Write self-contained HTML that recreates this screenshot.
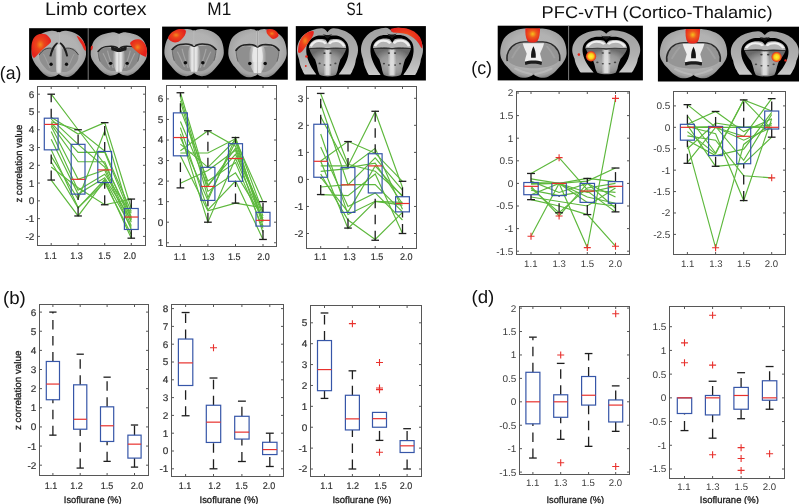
<!DOCTYPE html><html><head><meta charset="utf-8"><style>html,body{margin:0;padding:0;background:#fff;}svg{display:block;will-change:transform;}</style></head><body>
<svg width="800" height="504" viewBox="0 0 800 504" text-rendering="geometricPrecision" font-family='"Liberation Sans", sans-serif'>
<rect width="800" height="504" fill="#fff"/>
<defs>
<filter id="bl" x="-5%" y="-5%" width="110%" height="110%"><feGaussianBlur stdDeviation="0.45"/></filter>
<radialGradient id="gA" cx="50%" cy="45%" r="60%"><stop offset="0" stop-color="#b4b4b4"/><stop offset="0.6" stop-color="#b2b2b2"/><stop offset="0.85" stop-color="#a2a2a2"/><stop offset="1" stop-color="#6e6e6e"/></radialGradient>
<radialGradient id="gS" cx="50%" cy="50%" r="55%"><stop offset="0" stop-color="#a2a2a2"/><stop offset="1" stop-color="#858585"/></radialGradient>
<linearGradient id="gM" x1="0" y1="0" x2="1" y2="0"><stop offset="0" stop-color="#d8d8d8" stop-opacity="0"/><stop offset="0.35" stop-color="#e6e6e6"/><stop offset="0.65" stop-color="#e6e6e6"/><stop offset="1" stop-color="#d8d8d8" stop-opacity="0"/></linearGradient>
<radialGradient id="gC" cx="50%" cy="55%" r="55%"><stop offset="0" stop-color="#b0b0b0"/><stop offset="0.6" stop-color="#969696"/><stop offset="1" stop-color="#6a6a6a"/></radialGradient>
<linearGradient id="gArc" x1="0" y1="0" x2="0" y2="1"><stop offset="0" stop-color="#a0a0a0"/><stop offset="0.6" stop-color="#b0b0b0"/><stop offset="1" stop-color="#cacaca"/></linearGradient>
<radialGradient id="hot" cx="45%" cy="45%" r="50%"><stop offset="0" stop-color="#f28a1e"/><stop offset="0.4" stop-color="#ec441e"/><stop offset="1" stop-color="#e5241c"/></radialGradient>
<radialGradient id="hotY" cx="50%" cy="50%" r="50%"><stop offset="0" stop-color="#fff436"/><stop offset="0.5" stop-color="#fbd01c"/><stop offset="0.8" stop-color="#f2641e"/><stop offset="1" stop-color="#e8241c"/></radialGradient>
<radialGradient id="hotV" cx="50%" cy="40%" r="55%"><stop offset="0" stop-color="#f6c21e"/><stop offset="0.45" stop-color="#ee5a1e"/><stop offset="1" stop-color="#e6261c"/></radialGradient>
<g id="ant">
<path d="M50,5 C46,1.5 41,0 36.5,0.8 C29,2 22,4.5 17,8 C10,13 6,19 4,26 C1.5,34 0.3,43 0.5,51 C0.8,56 1.8,60 3.5,64 C6,70 8.5,74 11.5,78 C14.5,83 18,88 22,92 C26,96 30,98.5 34,99 C38,99.5 42,98 45,96.5 C47.5,95 49,93.5 50,92.5 C51,93.5 52.5,95 55,96.5 C58,98 62,99.5 66,99 C70,98.5 74,96 78,92 C82,88 85.5,83 88.5,78 C91.5,74 94,70 96.5,64 C98.2,60 99.2,56 99.5,51 C99.7,43 98.5,34 96,26 C94,19 90,13 83,8 C78,4.5 71,2 63.5,0.8 C59,0 54,1.5 50,5 Z" fill="url(#gA)"/>
<path d="M14,46 C18,40 23,36 29,35 L44,37 L45,88 C38,90 31,87 27,82 C21,75 16,68 14.5,60 Z" fill="#888"/>
<path d="M86,46 C82,40 77,36 71,35 L56,37 L55,88 C62,90 69,87 73,82 C79,75 84,68 85.5,60 Z" fill="#888"/>
<path d="M22,48 C26,56 28,66 34,80 M30,42 C32,55 36,68 40,82 M78,48 C74,56 72,66 66,80 M70,42 C68,55 64,68 60,82" fill="none" stroke="#b0b0b0" stroke-width="2" opacity="0.7"/>
<path d="M43,37 L57,37 C60,45 62,55 61,65 C60,75 57,83 55,90 L45,90 C43,83 40,75 39,65 C38,55 40,45 43,37 Z" fill="url(#gM)"/>
<path d="M13,45 C17,38 22,34 27,33 C33,32 38,32 41,32.5 C45,33.5 48,36 50,37 C52,36 55,33.5 59,32.5 C62,32 67,32 73,33 C78,34 83,38 87,45" fill="none" stroke="#202020" stroke-width="3.4"/>
<path d="M13.5,45 C14,53 15,60 17,67 M86.5,45 C86,53 85,60 83,67" fill="none" stroke="#555" stroke-width="1.3"/>
<path d="M50,3.5 L50,36" stroke="#dedede" stroke-width="2.4"/><path d="M50,3.5 L50,36" stroke="#555" stroke-width="0.8"/>
<path d="M50,40 L50,92" stroke="#8a8a8a" stroke-width="0.8"/>
<ellipse cx="35.5" cy="71" rx="3" ry="3.6" fill="#111"/><ellipse cx="64.5" cy="71" rx="3" ry="3.6" fill="#111"/>
</g>
<g id="antS">
<path d="M50,5 C46,1.5 41,0 36.5,0.8 C29,2 22,4.5 17,8 C10,13 6,19 4,26 C1.5,34 0.3,43 0.5,51 C0.8,56 1.8,60 3.5,64 C6,70 8.5,74 11.5,78 C14.5,83 18,88 22,92 C26,96 30,98.5 34,99 C38,99.5 42,98 45,96.5 C47.5,95 49,93.5 50,92.5 C51,93.5 52.5,95 55,96.5 C58,98 62,99.5 66,99 C70,98.5 74,96 78,92 C82,88 85.5,83 88.5,78 C91.5,74 94,70 96.5,64 C98.2,60 99.2,56 99.5,51 C99.7,43 98.5,34 96,26 C94,19 90,13 83,8 C78,4.5 71,2 63.5,0.8 C59,0 54,1.5 50,5 Z" fill="url(#gA)"/>
<path d="M14,46 C18,40 23,36 29,35 L44,37 L45,88 C38,90 31,87 27,82 C21,75 16,68 14.5,60 Z" fill="#888"/>
<path d="M86,46 C82,40 77,36 71,35 L56,37 L55,88 C62,90 69,87 73,82 C79,75 84,68 85.5,60 Z" fill="#888"/>
<path d="M22,48 C26,56 28,66 34,80 M30,42 C32,55 36,68 40,82 M78,48 C74,56 72,66 66,80 M70,42 C68,55 64,68 60,82" fill="none" stroke="#b0b0b0" stroke-width="2" opacity="0.7"/>
<path d="M43,37 L57,37 C60,45 62,55 61,65 C60,75 57,83 55,90 L45,90 C43,83 40,75 39,65 C38,55 40,45 43,37 Z" fill="url(#gM)"/>
<path d="M13,45 C17,38 22,34 27,33 C33,32 38,32 41,32.5 C45,33.5 48,36 50,37 C52,36 55,33.5 59,32.5 C62,32 67,32 73,33 C78,34 83,38 87,45" fill="none" stroke="#202020" stroke-width="3.4"/>
<path d="M13.5,45 C14,53 15,60 17,67 M86.5,45 C86,53 85,60 83,67" fill="none" stroke="#555" stroke-width="1.3"/>
<path d="M50,3.5 L50,36" stroke="#dedede" stroke-width="2.4"/><path d="M50,3.5 L50,36" stroke="#555" stroke-width="0.8"/>
<path d="M50,40 L50,92" stroke="#8a8a8a" stroke-width="0.8"/>
<ellipse cx="35.5" cy="71" rx="3" ry="3.6" fill="#111"/><ellipse cx="64.5" cy="71" rx="3" ry="3.6" fill="#111"/>
<path d="M36,33 C42,34.5 47,37 50,37.5 C53,37 58,34.5 64,33 L63,41 C58,42.5 53,45 50,45.5 C47,45 42,42.5 37,41 Z" fill="#1c1c1c"/>
</g>
<g id="antL">
<path d="M50,5 C46,1.5 41,0 36.5,0.8 C29,2 22,4.5 17,8 C10,13 6,19 4,26 C1.5,34 0.3,43 0.5,51 C0.8,56 1.8,60 3.5,64 C6,70 8.5,74 11.5,78 C14.5,83 18,88 22,92 C26,96 30,98.5 34,99 C38,99.5 42,98 45,96.5 C47.5,95 49,93.5 50,92.5 C51,93.5 52.5,95 55,96.5 C58,98 62,99.5 66,99 C70,98.5 74,96 78,92 C82,88 85.5,83 88.5,78 C91.5,74 94,70 96.5,64 C98.2,60 99.2,56 99.5,51 C99.7,43 98.5,34 96,26 C94,19 90,13 83,8 C78,4.5 71,2 63.5,0.8 C59,0 54,1.5 50,5 Z" fill="url(#gA)"/>
<path d="M14,50 C17,42 22,38 28,37 L44,39 L45,88 C38,90 31,87 27,82 C21,75 16,68 14.5,60 Z" fill="#8f8f8f"/>
<path d="M86,50 C83,42 78,38 72,37 L56,39 L55,88 C62,90 69,87 73,82 C79,75 84,68 85.5,60 Z" fill="#8f8f8f"/>
<path d="M22,50 C26,58 28,66 34,80 M78,50 C74,58 72,66 66,80" fill="none" stroke="#a8a8a8" stroke-width="2" opacity="0.7"/>
<path d="M46,30 L54,30 C55.5,45 56.5,60 56,74 C55.5,80 54.5,86 54,90 L46,90 C45.5,86 44.5,80 44,74 C43.5,60 44.5,45 46,30 Z" fill="url(#gM)" opacity="0.8"/>
<path d="M47,25 C42,29 38,35 36,42 C34.5,47 33.5,51 33,55 L36.5,55.5 C37.5,50 39,45 41,40 C43,35 45.5,31 48.5,28 Z" fill="#1c1c1c"/>
<path d="M53,25 C58,29 62,35 64,42 C65.5,47 66.5,51 67,55 L63.5,55.5 C62.5,50 61,45 59,40 C57,35 54.5,31 51.5,28 Z" fill="#1c1c1c"/>
<path d="M37,38 C28,36 20,42 14.5,52 M63,38 C72,36 80,42 85.5,52" fill="none" stroke="#3a3a3a" stroke-width="1.8"/>
<path d="M50,3.5 L50,28" stroke="#dedede" stroke-width="2.4"/><path d="M50,3.5 L50,28" stroke="#555" stroke-width="0.8"/>
<ellipse cx="36" cy="72" rx="3" ry="3.6" fill="#111"/><ellipse cx="64" cy="72" rx="3" ry="3.6" fill="#111"/>
</g>
<g id="antW">
<path d="M50,5 C46,1.5 41,0 36.5,0.8 C29,2 22,4.5 17,8 C10,13 6,19 4,26 C1.5,34 0.3,43 0.5,51 C0.8,56 1.8,60 3.5,64 C6,70 8.5,74 11.5,78 C14.5,83 18,88 22,92 C26,96 30,98.5 34,99 C38,99.5 42,98 45,96.5 C47.5,95 49,93.5 50,92.5 C51,93.5 52.5,95 55,96.5 C58,98 62,99.5 66,99 C70,98.5 74,96 78,92 C82,88 85.5,83 88.5,78 C91.5,74 94,70 96.5,64 C98.2,60 99.2,56 99.5,51 C99.7,43 98.5,34 96,26 C94,19 90,13 83,8 C78,4.5 71,2 63.5,0.8 C59,0 54,1.5 50,5 Z" fill="url(#gA)"/>
<path d="M14,46 C18,40 23,36 29,35 L42,37 L44,88 C38,90 31,87 27,82 C21,75 16,68 14.5,60 Z" fill="#8f8f8f"/>
<path d="M86,46 C82,40 77,36 71,35 L58,37 L56,88 C62,90 69,87 73,82 C79,75 84,68 85.5,60 Z" fill="#8f8f8f"/>
<path d="M39,37 L61,37 C64,45 66,55 65,65 C63,75 59,83 56,90 L44,90 C41,83 37,75 35,65 C34,55 36,45 39,37 Z" fill="url(#gM)"/>
<path d="M44,38 L56,38 C59,48 60,58 58,68 L42,68 C40,58 41,48 44,38 Z" fill="#e8e8e8" opacity="0.9"/>
<path d="M13,45 C17,38 22,34 27,33 C33,32 38,32 41,32.5 C45,33.5 48,36 50,37 C52,36 55,33.5 59,32.5 C62,32 67,32 73,33 C78,34 83,38 87,45" fill="none" stroke="#202020" stroke-width="3.4"/>
<path d="M13.5,45 C14,53 15,60 17,67 M86.5,45 C86,53 85,60 83,67" fill="none" stroke="#555" stroke-width="1.3"/>
<path d="M50,3.5 L50,36" stroke="#dedede" stroke-width="2.4"/><path d="M50,3.5 L50,36" stroke="#555" stroke-width="0.8"/>
<path d="M50,40 L50,92" stroke="#8a8a8a" stroke-width="0.8"/>
<ellipse cx="37" cy="71" rx="3" ry="3.6" fill="#111"/><ellipse cx="63" cy="71" rx="3" ry="3.6" fill="#111"/>
</g>
<g id="antV">
<path d="M50,5 C46,1.5 41,0 36.5,0.8 C29,2 22,4.5 17,8 C10,13 6,19 4,26 C1.5,34 0.3,43 0.5,51 C0.8,56 1.8,60 3.5,64 C6,70 8.5,74 11.5,78 C14.5,83 18,88 22,92 C26,96 30,98.5 34,99 C38,99.5 42,98 45,96.5 C47.5,95 49,93.5 50,92.5 C51,93.5 52.5,95 55,96.5 C58,98 62,99.5 66,99 C70,98.5 74,96 78,92 C82,88 85.5,83 88.5,78 C91.5,74 94,70 96.5,64 C98.2,60 99.2,56 99.5,51 C99.7,43 98.5,34 96,26 C94,19 90,13 83,8 C78,4.5 71,2 63.5,0.8 C59,0 54,1.5 50,5 Z" fill="url(#gA)"/>
<path d="M12,66 C10,52 15,39 25,32 C29,29.5 33,29 36,29 L64,29 C67,29 71,29.5 75,32 C85,39 90,52 88,66 C80,76 65,80 50,80 C35,80 20,76 12,66 Z" fill="#959595"/>
<path d="M11,66 C9,52 14,38 24,31 C29,28 33,27.5 36,27.5 L64,27.5 C67,27.5 71,28 76,31 C86,38 91,52 89,66" fill="none" stroke="#2a2a2a" stroke-width="2.4"/>
<path d="M18,60 C22,50 26,42 30,36 M82,60 C78,50 74,42 70,36" fill="none" stroke="#a8a8a8" stroke-width="3" opacity="0.6"/>
<path d="M34,30 L66,30 C64,40 61,46 60,51 C61,57 63,63 63,70 L37,70 C37,63 39,57 40,51 C39,46 36,40 34,30 Z" fill="#efefef"/>
<path d="M50,36 C47.5,42 46,50 46.5,59 L53.5,59 C54,50 52.5,42 50,36 Z" fill="#161616"/>
<path d="M37,67 C44,64 56,64 63,67 L62,73.5 C56,70.5 44,70.5 38,73.5 Z" fill="#1a1a1a"/>
<path d="M22,80 C30,86 40,90 48,92 M78,80 C70,86 60,90 52,92" fill="none" stroke="#bdbdbd" stroke-width="4" opacity="0.7"/>
</g>
<g id="post">
<path d="M12.6,94.6 C10.5,91 9.5,88.5 8.9,86 C6,79 4,71 3.5,64 C1.5,57 0,51 0,45 C0,42 0.2,39.5 0.5,37 C1.5,32 2.5,28.5 4,25 C6.5,20 9,16 12,13 C16,9 20,6 25,4 C30,2 35,0.5 40,0.3 C44,0.5 47,3.5 50,8.2 C53,3.5 56,0.5 60,0.3 C65,0.5 70,2 75,4 C80,6 84,9 88,13 C91,16 93.5,20 96,25 C97.5,28.5 98.5,32 99.5,37 C99.8,39.5 100,42 100,45 C100,51 98.5,57 96.5,64 C96,71 94,79 91.1,86 C90.5,88.5 89.5,91 87.4,94.6 L68.4,94.6 C70,91 72,88.5 73.1,86 C77,79 80,71 82.1,64 C84,57 85,50 84.8,43 C84.5,35 83,30 80,26 C77,22 75,20 72,18 C68,16 65,15 62,15 L57,15 C54,15.5 52,17.5 50,20 C48,17.5 46,15.5 43,15 L38,15 C35,15 32,16 28,18 C25,20 23,22 20,26 C17,30 15.5,35 15.2,43 C15,50 16,57 17.9,64 C20,71 23,79 26.9,86 C28,88.5 30,91 31.6,94.6 Z" fill="url(#gArc)"/>
<path d="M19.4,41 C19.5,32 25,25 32.4,22.7 C38,21.5 44,22 46.8,23.8 C48.5,26 49.5,28.5 50.4,30.6 C51.3,28.5 52.3,26 54,23.8 C56.8,22 62.8,21.5 68.4,22.7 C75.8,25 80.5,32 80.6,41 Z" fill="#b4b4b4"/>
<path d="M22.4,37 C26,29 31,26 36,26 C41,26 45,28 47.3,31.6 M77.6,37 C74,29 69,26 64,26 C59,26 55,28 52.7,31.6" fill="none" stroke="#f0f0f0" stroke-width="4.2"/>
<path d="M20.2,42 C22,50 26,58 29.7,64 C32,72 33.5,80 34.2,86 C35,90 36,93 36.9,95 C41,97.5 46,98.4 50.4,98.4 C55,98.4 60,97.5 63.9,95 C64.8,93 65.8,90 66.6,86 C67.3,80 68.8,72 71.1,64 C74.8,58 78.8,50 80.6,42 Z" fill="url(#gC)"/>
<path d="M43,44 L57,44 L56,96 L44,96 Z" fill="url(#gM)" opacity="0.85"/>
<path d="M20,42 C35,39.5 45,40 50,42.5 C55,40 65,39.5 81,42" fill="none" stroke="#333" stroke-width="1.6"/>
<circle cx="45" cy="51" r="1.8" fill="#3a3a3a"/><circle cx="55" cy="51" r="1.8" fill="#3a3a3a"/>
<circle cx="37" cy="72" r="1.8" fill="#444"/><circle cx="45" cy="75" r="1.6" fill="#444"/><circle cx="55" cy="75" r="1.6" fill="#444"/><circle cx="63" cy="72" r="1.8" fill="#444"/>
<path d="M42,12 C45,15.5 48,19 50,22 C52,19 55,15.5 58,12 C55,13.5 53,14 50,14 C47,14 45,13.5 42,12 Z" fill="#141414"/>
</g>
</defs>
<rect x="29.1" y="28.2" width="120.9" height="51.7" fill="#000"/>
<rect x="162.1" y="26.6" width="125.7" height="53.1" fill="#000"/>
<rect x="295.8" y="26.1" width="130.1" height="54.4" fill="#000"/>
<rect x="497.7" y="25.7" width="145.2" height="54.7" fill="#000"/>
<rect x="657.9" y="26.7" width="141.1" height="54.8" fill="#000"/>
<line x1="88.2" y1="28.2" x2="88.2" y2="79.9" stroke="#8a8a8a" stroke-width="0.9"/>
<line x1="568.6" y1="25.7" x2="568.6" y2="80.4" stroke="#8a8a8a" stroke-width="0.9"/>
<g filter="url(#bl)">
<use href="#antL" transform="translate(31.3 30.4) scale(0.55 0.47)"/>
<use href="#antS" transform="translate(90.4 32.1) scale(0.57 0.44)"/>
<use href="#ant" transform="translate(164.1 28.6) scale(0.6 0.48)"/>
<use href="#antW" transform="translate(228 28.8) scale(0.59 0.49)"/>
<use href="#post" transform="translate(297 28.2) scale(0.61 0.49)"/>
<use href="#post" transform="translate(361 27.6) scale(0.62 0.5)"/>
<use href="#antV" transform="translate(499.9 28.2) scale(0.67 0.5)"/>
<use href="#post" transform="translate(572.2 30) scale(0.68 0.45)"/>
<use href="#antV" transform="translate(659.5 28.8) scale(0.68 0.5)"/>
<use href="#post" transform="translate(730.8 31.2) scale(0.68 0.46)"/>
<path d="M31.5,50 C31,43 33,37 37,35 C41,33 46,33.5 48,36 C50,38 51.5,40 51,42 C49,45 45,47 42,50 C39,53 36,57 34,58 C32,57 31.8,54 31.5,50 Z" fill="url(#hot)"/>
<path d="M76.5,35.5 C80,37 84,41 85.5,46 C86,48 86,50 85.5,51 C84,50 83,47 82,45 C80,42 78,39 76.5,35.5 Z" fill="#e8281c"/>
<path d="M130,43 C132,40 136,38.5 140,39.5 C144,41 147,46 147,51 C147,54 146.5,56 146,57 C143,56 139,54 136,51 C133,48 130.5,46 130,43 Z" fill="url(#hot)"/>
<path d="M90.8,47 C91.5,45.5 92.5,45 92.8,46.5 C93,48 92.2,50 91,50.5 C90.6,49.5 90.6,48 90.8,47 Z" fill="#e8281c"/>
<path d="M168,38 C169,34 173,31 177,29.5 C181,28.5 185,29 186,31 C186,34 184,37 182,39 C180,41.5 177,42.5 175,42.5 C172,42 169,40.5 168,38 Z" fill="url(#hot)"/>
<path d="M266.5,30 C268,28.8 272,28.8 274.5,30 C277,31.5 279,34 278.5,36 C277,38 275,39 273,39 C271,38.5 268.5,35.5 267,33.5 C266.5,32 266.3,31 266.5,30 Z" fill="url(#hot)"/>
<path d="M298,52 C298,45 300,39 304,35 C307,32 311,30.5 313.5,31 C314.5,33 313,36 311,39 C308,43 305,48 302,51.5 C300.5,53 298.8,53.5 298,52 Z" fill="url(#hot)"/>
<circle cx="306.5" cy="56.5" r="1.3" fill="#e8281c"/><circle cx="305.8" cy="66" r="0.9" fill="#e8281c"/>
<path d="M390.5,29 C394,27.6 400,27.2 406,28.2 C412,29.6 417,32.8 420,37.2 C421.8,40.6 422.6,44.6 422.3,48.5 C421,47.8 419.8,45.6 418.3,43 C416,39.8 412.5,36.6 407.5,34.6 C402.5,32.8 397,32.6 393,32.4 C391.5,31.6 390.7,30.4 390.5,29 Z" fill="url(#hot)"/>
<path d="M525.4,28.3 L540,28.3 C540,33 539.5,38 537.5,41 C535,43 530,43 527.5,41 C525.5,38 525.2,33 525.4,28.3 Z" fill="url(#hotV)"/>
<circle cx="591" cy="56.3" r="5.1" fill="url(#hotY)"/><circle cx="578.9" cy="54.6" r="1.3" fill="#e8281c"/>
<path d="M685.6,29 L700,29 C700,34 699.5,39 697.5,42 C695,44 690,44 687.5,42 C685.5,39 685.4,34 685.6,29 Z" fill="url(#hotV)"/>
<circle cx="776.6" cy="57" r="5.1" fill="url(#hotY)"/><circle cx="785.5" cy="60.4" r="1.2" fill="#e8281c"/>
</g>
<g fill="#333333">
<polyline points="51.2,94.2 78.1,129.75 104.7,164.23 131.3,218.62" fill="none" stroke="#5db83c" stroke-width="1.15"/>
<polyline points="51.2,117.31 78.1,134.02 104.7,122.64 131.3,208.49" fill="none" stroke="#5db83c" stroke-width="1.15"/>
<polyline points="51.2,121.75 78.1,129.75 104.7,151.08 131.3,211.51" fill="none" stroke="#5db83c" stroke-width="1.15"/>
<polyline points="51.2,122.64 78.1,152.32 104.7,152.32 131.3,216.85" fill="none" stroke="#5db83c" stroke-width="1.15"/>
<polyline points="51.2,124.42 78.1,161.75 104.7,161.75 131.3,222.18" fill="none" stroke="#5db83c" stroke-width="1.15"/>
<polyline points="51.2,119.09 78.1,144.33 104.7,167.08 131.3,225.74" fill="none" stroke="#5db83c" stroke-width="1.15"/>
<polyline points="51.2,126.19 78.1,179.34 104.7,169.92 131.3,229.47" fill="none" stroke="#5db83c" stroke-width="1.15"/>
<polyline points="51.2,131.53 78.1,190.19 104.7,174.19 131.3,213.29" fill="none" stroke="#5db83c" stroke-width="1.15"/>
<polyline points="51.2,139.35 78.1,194.1 104.7,177.74 131.3,220.4" fill="none" stroke="#5db83c" stroke-width="1.15"/>
<polyline points="51.2,149.84 78.1,207.6 104.7,182.54 131.3,234.62" fill="none" stroke="#5db83c" stroke-width="1.15"/>
<polyline points="51.2,161.75 78.1,207.96 104.7,179.52 131.3,227.51" fill="none" stroke="#5db83c" stroke-width="1.15"/>
<polyline points="51.2,180.05 78.1,215.96 104.7,180.59 131.3,238.18" fill="none" stroke="#5db83c" stroke-width="1.15"/>
<polyline points="51.2,167.08 78.1,187.7 104.7,204.76 131.3,199.07" fill="none" stroke="#5db83c" stroke-width="1.15"/>
<polyline points="51.2,156.41 78.1,199.07 104.7,130.99 131.3,219.51" fill="none" stroke="#5db83c" stroke-width="1.15"/>
<line x1="51.2" y1="118.2" x2="51.2" y2="94.2" stroke="#1e1e1e" stroke-width="1.3" stroke-dasharray="9.5,6.5"/>
<line x1="47.41" y1="94.2" x2="55" y2="94.2" stroke="#1e1e1e" stroke-width="1.3"/>
<line x1="51.2" y1="180.05" x2="51.2" y2="149.84" stroke="#1e1e1e" stroke-width="1.3" stroke-dasharray="9.5,6.5"/>
<line x1="47.41" y1="180.05" x2="55" y2="180.05" stroke="#1e1e1e" stroke-width="1.3"/>
<rect x="44.3" y="118.2" width="13.8" height="31.64" fill="none" stroke="#3656a8" stroke-width="1.2"/>
<line x1="44.3" y1="124.42" x2="58.1" y2="124.42" stroke="#e8312d" stroke-width="1.2"/>
<line x1="78.1" y1="144.33" x2="78.1" y2="129.75" stroke="#1e1e1e" stroke-width="1.3" stroke-dasharray="9.5,6.5"/>
<line x1="74.3" y1="129.75" x2="81.89" y2="129.75" stroke="#1e1e1e" stroke-width="1.3"/>
<line x1="78.1" y1="215.96" x2="78.1" y2="194.1" stroke="#1e1e1e" stroke-width="1.3" stroke-dasharray="9.5,6.5"/>
<line x1="74.3" y1="215.96" x2="81.89" y2="215.96" stroke="#1e1e1e" stroke-width="1.3"/>
<rect x="71.2" y="144.33" width="13.8" height="49.77" fill="none" stroke="#3656a8" stroke-width="1.2"/>
<line x1="71.2" y1="179.34" x2="85" y2="179.34" stroke="#e8312d" stroke-width="1.2"/>
<line x1="104.7" y1="151.44" x2="104.7" y2="122.64" stroke="#1e1e1e" stroke-width="1.3" stroke-dasharray="9.5,6.5"/>
<line x1="100.91" y1="122.64" x2="108.5" y2="122.64" stroke="#1e1e1e" stroke-width="1.3"/>
<line x1="104.7" y1="204.76" x2="104.7" y2="182.54" stroke="#1e1e1e" stroke-width="1.3" stroke-dasharray="9.5,6.5"/>
<line x1="100.91" y1="204.76" x2="108.5" y2="204.76" stroke="#1e1e1e" stroke-width="1.3"/>
<rect x="97.8" y="151.44" width="13.8" height="31.11" fill="none" stroke="#3656a8" stroke-width="1.2"/>
<line x1="97.8" y1="169.92" x2="111.6" y2="169.92" stroke="#e8312d" stroke-width="1.2"/>
<line x1="131.3" y1="208.49" x2="131.3" y2="199.07" stroke="#1e1e1e" stroke-width="1.3" stroke-dasharray="9.5,6.5"/>
<line x1="127.51" y1="199.07" x2="135.09" y2="199.07" stroke="#1e1e1e" stroke-width="1.3"/>
<line x1="131.3" y1="238.18" x2="131.3" y2="229.47" stroke="#1e1e1e" stroke-width="1.3" stroke-dasharray="9.5,6.5"/>
<line x1="127.51" y1="238.18" x2="135.09" y2="238.18" stroke="#1e1e1e" stroke-width="1.3"/>
<rect x="124.4" y="208.49" width="13.8" height="20.97" fill="none" stroke="#3656a8" stroke-width="1.2"/>
<line x1="124.4" y1="217.03" x2="138.2" y2="217.03" stroke="#e8312d" stroke-width="1.2"/>
<rect x="37.5" y="86.5" width="108" height="159" fill="none" stroke="#575757" stroke-width="1"/>
<text transform="translate(34.4 97.67) scale(1.0 0.97)" text-anchor="end" font-size="10" stroke="#333" stroke-width="0.2">6</text>
<text transform="translate(34.4 115.45) scale(1.0 0.97)" text-anchor="end" font-size="10" stroke="#333" stroke-width="0.2">5</text>
<text transform="translate(34.4 133.22) scale(1.0 0.97)" text-anchor="end" font-size="10" stroke="#333" stroke-width="0.2">4</text>
<text transform="translate(34.4 151) scale(1.0 0.97)" text-anchor="end" font-size="10" stroke="#333" stroke-width="0.2">3</text>
<text transform="translate(34.4 168.77) scale(1.0 0.97)" text-anchor="end" font-size="10" stroke="#333" stroke-width="0.2">2</text>
<text transform="translate(34.4 186.55) scale(1.0 0.97)" text-anchor="end" font-size="10" stroke="#333" stroke-width="0.2">1</text>
<text transform="translate(34.4 204.32) scale(1.0 0.97)" text-anchor="end" font-size="10" stroke="#333" stroke-width="0.2">0</text>
<text transform="translate(34.4 222.1) scale(1.0 0.97)" text-anchor="end" font-size="10" stroke="#333" stroke-width="0.2">-1</text>
<text transform="translate(34.4 239.87) scale(1.0 0.97)" text-anchor="end" font-size="10" stroke="#333" stroke-width="0.2">-2</text>
<text transform="translate(50.6 258.6) scale(0.9 0.96)" text-anchor="middle" font-size="10" stroke="#333" stroke-width="0.2">1.1</text>
<text transform="translate(76.4 258.6) scale(0.9 0.96)" text-anchor="middle" font-size="10" stroke="#333" stroke-width="0.2">1.3</text>
<text transform="translate(104.4 258.6) scale(0.9 0.96)" text-anchor="middle" font-size="10" stroke="#333" stroke-width="0.2">1.5</text>
<text transform="translate(129.75 258.6) scale(0.9 0.96)" text-anchor="middle" font-size="10" stroke="#333" stroke-width="0.2">2.0</text>
<path d="M37.5 94.2h2.5M145.5 94.2h-2.5M37.5 111.97h2.5M145.5 111.97h-2.5M37.5 129.75h2.5M145.5 129.75h-2.5M37.5 147.53h2.5M145.5 147.53h-2.5M37.5 165.3h2.5M145.5 165.3h-2.5M37.5 183.07h2.5M145.5 183.07h-2.5M37.5 200.85h2.5M145.5 200.85h-2.5M37.5 218.62h2.5M145.5 218.62h-2.5M37.5 236.4h2.5M145.5 236.4h-2.5M51.2 245.5v-2.5M51.2 86.5v2.5M78.1 245.5v-2.5M78.1 86.5v2.5M104.7 245.5v-2.5M104.7 86.5v2.5M131.3 245.5v-2.5M131.3 86.5v2.5" stroke="#575757" stroke-width="1"/>
<polyline points="180.4,92.74 207.9,185.21 235.5,154.38 263,211.92" fill="none" stroke="#5db83c" stroke-width="1.15"/>
<polyline points="180.4,96.85 207.9,191.38 235.5,172.88 263,218.09" fill="none" stroke="#5db83c" stroke-width="1.15"/>
<polyline points="180.4,100.95 207.9,197.54 235.5,142.06 263,222.2" fill="none" stroke="#5db83c" stroke-width="1.15"/>
<polyline points="180.4,109.18 207.9,181.1 235.5,162.6 263,228.36" fill="none" stroke="#5db83c" stroke-width="1.15"/>
<polyline points="180.4,121.5 207.9,186.44 235.5,148.22 263,220.14" fill="none" stroke="#5db83c" stroke-width="1.15"/>
<polyline points="180.4,127.67 207.9,209.87 235.5,181.1 263,239.46" fill="none" stroke="#5db83c" stroke-width="1.15"/>
<polyline points="180.4,133.84 207.9,222.2 235.5,158.5 263,220.35" fill="none" stroke="#5db83c" stroke-width="1.15"/>
<polyline points="180.4,137.53 207.9,200.42 235.5,137.53 263,212.34" fill="none" stroke="#5db83c" stroke-width="1.15"/>
<polyline points="180.4,144.11 207.9,167.33 235.5,140 263,201.65" fill="none" stroke="#5db83c" stroke-width="1.15"/>
<polyline points="180.4,150.69 207.9,130.75 235.5,146.16 263,216.03" fill="none" stroke="#5db83c" stroke-width="1.15"/>
<polyline points="180.4,152.95 207.9,152.95 235.5,138.77 263,226.1" fill="none" stroke="#5db83c" stroke-width="1.15"/>
<polyline points="180.4,155.82 207.9,210.9 235.5,203.09 263,207.81" fill="none" stroke="#5db83c" stroke-width="1.15"/>
<polyline points="180.4,183.15 207.9,170.41 235.5,150.28 263,232.47" fill="none" stroke="#5db83c" stroke-width="1.15"/>
<line x1="180.4" y1="112.87" x2="180.4" y2="92.74" stroke="#1e1e1e" stroke-width="1.3" stroke-dasharray="9.5,6.5"/>
<line x1="176.55" y1="92.74" x2="184.25" y2="92.74" stroke="#1e1e1e" stroke-width="1.3"/>
<line x1="180.4" y1="187.88" x2="180.4" y2="155.82" stroke="#1e1e1e" stroke-width="1.3" stroke-dasharray="9.5,6.5"/>
<line x1="176.55" y1="187.88" x2="184.25" y2="187.88" stroke="#1e1e1e" stroke-width="1.3"/>
<rect x="173.4" y="112.87" width="14" height="42.95" fill="none" stroke="#3656a8" stroke-width="1.2"/>
<line x1="173.4" y1="137.53" x2="187.4" y2="137.53" stroke="#e8312d" stroke-width="1.2"/>
<line x1="207.9" y1="167.33" x2="207.9" y2="130.75" stroke="#1e1e1e" stroke-width="1.3" stroke-dasharray="9.5,6.5"/>
<line x1="204.05" y1="130.75" x2="211.75" y2="130.75" stroke="#1e1e1e" stroke-width="1.3"/>
<line x1="207.9" y1="222.2" x2="207.9" y2="200.42" stroke="#1e1e1e" stroke-width="1.3" stroke-dasharray="9.5,6.5"/>
<line x1="204.05" y1="222.2" x2="211.75" y2="222.2" stroke="#1e1e1e" stroke-width="1.3"/>
<rect x="200.9" y="167.33" width="14" height="33.09" fill="none" stroke="#3656a8" stroke-width="1.2"/>
<line x1="200.9" y1="186.44" x2="214.9" y2="186.44" stroke="#e8312d" stroke-width="1.2"/>
<line x1="235.5" y1="143.7" x2="235.5" y2="137.53" stroke="#1e1e1e" stroke-width="1.3" stroke-dasharray="9.5,6.5"/>
<line x1="231.65" y1="137.53" x2="239.35" y2="137.53" stroke="#1e1e1e" stroke-width="1.3"/>
<line x1="235.5" y1="203.09" x2="235.5" y2="181.31" stroke="#1e1e1e" stroke-width="1.3" stroke-dasharray="9.5,6.5"/>
<line x1="231.65" y1="203.09" x2="239.35" y2="203.09" stroke="#1e1e1e" stroke-width="1.3"/>
<rect x="228.5" y="143.7" width="14" height="37.61" fill="none" stroke="#3656a8" stroke-width="1.2"/>
<line x1="228.5" y1="158.5" x2="242.5" y2="158.5" stroke="#e8312d" stroke-width="1.2"/>
<line x1="263" y1="212.34" x2="263" y2="201.65" stroke="#1e1e1e" stroke-width="1.3" stroke-dasharray="9.5,6.5"/>
<line x1="259.15" y1="201.65" x2="266.85" y2="201.65" stroke="#1e1e1e" stroke-width="1.3"/>
<line x1="263" y1="239.46" x2="263" y2="226.1" stroke="#1e1e1e" stroke-width="1.3" stroke-dasharray="9.5,6.5"/>
<line x1="259.15" y1="239.46" x2="266.85" y2="239.46" stroke="#1e1e1e" stroke-width="1.3"/>
<rect x="256" y="212.34" width="14" height="13.77" fill="none" stroke="#3656a8" stroke-width="1.2"/>
<line x1="256" y1="220.35" x2="270" y2="220.35" stroke="#e8312d" stroke-width="1.2"/>
<rect x="166.5" y="85.5" width="110" height="161" fill="none" stroke="#575757" stroke-width="1"/>
<text transform="translate(163.4 102.37) scale(1.0 0.97)" text-anchor="end" font-size="10" stroke="#333" stroke-width="0.2">6</text>
<text transform="translate(163.4 122.92) scale(1.0 0.97)" text-anchor="end" font-size="10" stroke="#333" stroke-width="0.2">5</text>
<text transform="translate(163.4 143.47) scale(1.0 0.97)" text-anchor="end" font-size="10" stroke="#333" stroke-width="0.2">4</text>
<text transform="translate(163.4 164.02) scale(1.0 0.97)" text-anchor="end" font-size="10" stroke="#333" stroke-width="0.2">3</text>
<text transform="translate(163.4 184.57) scale(1.0 0.97)" text-anchor="end" font-size="10" stroke="#333" stroke-width="0.2">2</text>
<text transform="translate(163.4 205.12) scale(1.0 0.97)" text-anchor="end" font-size="10" stroke="#333" stroke-width="0.2">1</text>
<text transform="translate(163.4 225.67) scale(1.0 0.97)" text-anchor="end" font-size="10" stroke="#333" stroke-width="0.2">0</text>
<text transform="translate(163.4 246.22) scale(1.0 0.97)" text-anchor="end" font-size="10" stroke="#333" stroke-width="0.2">1</text>
<text transform="translate(180 260.1) scale(0.9 0.96)" text-anchor="middle" font-size="10" stroke="#333" stroke-width="0.2">1.1</text>
<text transform="translate(208.3 260.1) scale(0.9 0.96)" text-anchor="middle" font-size="10" stroke="#333" stroke-width="0.2">1.3</text>
<text transform="translate(234.3 260.1) scale(0.9 0.96)" text-anchor="middle" font-size="10" stroke="#333" stroke-width="0.2">1.5</text>
<text transform="translate(263.5 260.1) scale(0.9 0.96)" text-anchor="middle" font-size="10" stroke="#333" stroke-width="0.2">2.0</text>
<path d="M166.5 98.9h2.5M276.5 98.9h-2.5M166.5 119.45h2.5M276.5 119.45h-2.5M166.5 140h2.5M276.5 140h-2.5M166.5 160.55h2.5M276.5 160.55h-2.5M166.5 181.1h2.5M276.5 181.1h-2.5M166.5 201.65h2.5M276.5 201.65h-2.5M166.5 222.2h2.5M276.5 222.2h-2.5M166.5 242.75h2.5M276.5 242.75h-2.5M180.4 246.5v-2.5M180.4 85.5v2.5M207.9 246.5v-2.5M207.9 85.5v2.5M235.5 246.5v-2.5M235.5 85.5v2.5M263 246.5v-2.5M263 85.5v2.5" stroke="#575757" stroke-width="1"/>
<polyline points="320.7,93.7 348,164.28 375.2,171.31 402.5,195.64" fill="none" stroke="#5db83c" stroke-width="1.15"/>
<polyline points="320.7,103.98 348,184.83 375.2,157.79 402.5,190.24" fill="none" stroke="#5db83c" stroke-width="1.15"/>
<polyline points="320.7,116.69 348,167.52 375.2,163.2 402.5,203.76" fill="none" stroke="#5db83c" stroke-width="1.15"/>
<polyline points="320.7,133.99 348,214.57 375.2,201.32 402.5,202.4" fill="none" stroke="#5db83c" stroke-width="1.15"/>
<polyline points="320.7,161.03 348,141.29 375.2,153.19 402.5,181.31" fill="none" stroke="#5db83c" stroke-width="1.15"/>
<polyline points="320.7,165.9 348,165.9 375.2,111.82 402.5,187.53" fill="none" stroke="#5db83c" stroke-width="1.15"/>
<polyline points="320.7,171.31 348,168.6 375.2,148.32 402.5,209.16" fill="none" stroke="#5db83c" stroke-width="1.15"/>
<polyline points="320.7,177.26 348,211.87 375.2,165.9 402.5,196.73" fill="none" stroke="#5db83c" stroke-width="1.15"/>
<polyline points="320.7,186.99 348,184.56 375.2,184.56 402.5,211.87" fill="none" stroke="#5db83c" stroke-width="1.15"/>
<polyline points="320.7,161.3 348,228.36 375.2,201.32 402.5,205.11" fill="none" stroke="#5db83c" stroke-width="1.15"/>
<polyline points="320.7,174.01 348,219.98 375.2,239.45 402.5,212.41" fill="none" stroke="#5db83c" stroke-width="1.15"/>
<polyline points="320.7,194.56 348,195.64 375.2,174.01 402.5,233.5" fill="none" stroke="#5db83c" stroke-width="1.15"/>
<polyline points="320.7,146.97 348,206.46 375.2,192.94 402.5,219.98" fill="none" stroke="#5db83c" stroke-width="1.15"/>
<line x1="320.7" y1="124.26" x2="320.7" y2="93.43" stroke="#1e1e1e" stroke-width="1.3" stroke-dasharray="9.5,6.5"/>
<line x1="316.9" y1="93.43" x2="324.5" y2="93.43" stroke="#1e1e1e" stroke-width="1.3"/>
<line x1="320.7" y1="194.56" x2="320.7" y2="177.26" stroke="#1e1e1e" stroke-width="1.3" stroke-dasharray="9.5,6.5"/>
<line x1="316.9" y1="194.56" x2="324.5" y2="194.56" stroke="#1e1e1e" stroke-width="1.3"/>
<rect x="313.8" y="124.26" width="13.8" height="53" fill="none" stroke="#3656a8" stroke-width="1.2"/>
<line x1="313.8" y1="161.3" x2="327.6" y2="161.3" stroke="#e8312d" stroke-width="1.2"/>
<line x1="348" y1="167.52" x2="348" y2="141.56" stroke="#1e1e1e" stroke-width="1.3" stroke-dasharray="9.5,6.5"/>
<line x1="344.2" y1="141.56" x2="351.8" y2="141.56" stroke="#1e1e1e" stroke-width="1.3"/>
<line x1="348" y1="228.09" x2="348" y2="212.41" stroke="#1e1e1e" stroke-width="1.3" stroke-dasharray="9.5,6.5"/>
<line x1="344.2" y1="228.09" x2="351.8" y2="228.09" stroke="#1e1e1e" stroke-width="1.3"/>
<rect x="341.1" y="167.52" width="13.8" height="44.89" fill="none" stroke="#3656a8" stroke-width="1.2"/>
<line x1="341.1" y1="184.83" x2="354.9" y2="184.83" stroke="#e8312d" stroke-width="1.2"/>
<line x1="375.2" y1="153.73" x2="375.2" y2="111.28" stroke="#1e1e1e" stroke-width="1.3" stroke-dasharray="9.5,6.5"/>
<line x1="371.4" y1="111.28" x2="379" y2="111.28" stroke="#1e1e1e" stroke-width="1.3"/>
<line x1="375.2" y1="240.26" x2="375.2" y2="192.94" stroke="#1e1e1e" stroke-width="1.3" stroke-dasharray="9.5,6.5"/>
<line x1="371.4" y1="240.26" x2="379" y2="240.26" stroke="#1e1e1e" stroke-width="1.3"/>
<rect x="368.3" y="153.73" width="13.8" height="39.21" fill="none" stroke="#3656a8" stroke-width="1.2"/>
<line x1="368.3" y1="165.9" x2="382.1" y2="165.9" stroke="#e8312d" stroke-width="1.2"/>
<line x1="402.5" y1="196.73" x2="402.5" y2="181.31" stroke="#1e1e1e" stroke-width="1.3" stroke-dasharray="9.5,6.5"/>
<line x1="398.7" y1="181.31" x2="406.3" y2="181.31" stroke="#1e1e1e" stroke-width="1.3"/>
<line x1="402.5" y1="233.5" x2="402.5" y2="211.87" stroke="#1e1e1e" stroke-width="1.3" stroke-dasharray="9.5,6.5"/>
<line x1="398.7" y1="233.5" x2="406.3" y2="233.5" stroke="#1e1e1e" stroke-width="1.3"/>
<rect x="395.6" y="196.73" width="13.8" height="15.14" fill="none" stroke="#3656a8" stroke-width="1.2"/>
<line x1="395.6" y1="203.49" x2="409.4" y2="203.49" stroke="#e8312d" stroke-width="1.2"/>
<rect x="306.5" y="86.5" width="110" height="162" fill="none" stroke="#575757" stroke-width="1"/>
<text transform="translate(303.4 101.77) scale(1.0 0.97)" text-anchor="end" font-size="10" stroke="#333" stroke-width="0.2">3</text>
<text transform="translate(303.4 128.81) scale(1.0 0.97)" text-anchor="end" font-size="10" stroke="#333" stroke-width="0.2">2</text>
<text transform="translate(303.4 155.85) scale(1.0 0.97)" text-anchor="end" font-size="10" stroke="#333" stroke-width="0.2">1</text>
<text transform="translate(303.4 182.89) scale(1.0 0.97)" text-anchor="end" font-size="10" stroke="#333" stroke-width="0.2">0</text>
<text transform="translate(303.4 209.93) scale(1.0 0.97)" text-anchor="end" font-size="10" stroke="#333" stroke-width="0.2">-1</text>
<text transform="translate(303.4 236.97) scale(1.0 0.97)" text-anchor="end" font-size="10" stroke="#333" stroke-width="0.2">-2</text>
<text transform="translate(320.3 260.3) scale(0.9 0.96)" text-anchor="middle" font-size="10" stroke="#333" stroke-width="0.2">1.1</text>
<text transform="translate(349.5 260.3) scale(0.9 0.96)" text-anchor="middle" font-size="10" stroke="#333" stroke-width="0.2">1.3</text>
<text transform="translate(376.9 260.3) scale(0.9 0.96)" text-anchor="middle" font-size="10" stroke="#333" stroke-width="0.2">1.5</text>
<text transform="translate(406.3 260.3) scale(0.9 0.96)" text-anchor="middle" font-size="10" stroke="#333" stroke-width="0.2">2.0</text>
<path d="M306.5 98.3h2.5M416.5 98.3h-2.5M306.5 125.34h2.5M416.5 125.34h-2.5M306.5 152.38h2.5M416.5 152.38h-2.5M306.5 179.42h2.5M416.5 179.42h-2.5M306.5 206.46h2.5M416.5 206.46h-2.5M306.5 233.5h2.5M416.5 233.5h-2.5M320.7 248.5v-2.5M320.7 86.5v2.5M348 248.5v-2.5M348 86.5v2.5M375.2 248.5v-2.5M375.2 86.5v2.5M402.5 248.5v-2.5M402.5 86.5v2.5" stroke="#575757" stroke-width="1"/>
<polyline points="531,173.46 559.1,157.64 587.3,189.73 615.5,192.44" fill="none" stroke="#5db83c" stroke-width="1.15"/>
<polyline points="531,178.88 559.1,183.4 587.3,178.43 615.5,181.59" fill="none" stroke="#5db83c" stroke-width="1.15"/>
<polyline points="531,182.5 559.1,183.4 587.3,181.14 615.5,168.03" fill="none" stroke="#5db83c" stroke-width="1.15"/>
<polyline points="531,184.3 559.1,183.4 587.3,202.38 615.5,206" fill="none" stroke="#5db83c" stroke-width="1.15"/>
<polyline points="531,186.34 559.1,215.94 587.3,183.4 615.5,196.96" fill="none" stroke="#5db83c" stroke-width="1.15"/>
<polyline points="531,187.92 559.1,212.78 587.3,187.92 615.5,183.4" fill="none" stroke="#5db83c" stroke-width="1.15"/>
<polyline points="531,190.18 559.1,195.6 587.3,191.08 615.5,211.88" fill="none" stroke="#5db83c" stroke-width="1.15"/>
<polyline points="531,194.7 559.1,183.4 587.3,196.96 615.5,203.29" fill="none" stroke="#5db83c" stroke-width="1.15"/>
<polyline points="531,199.67 559.1,206 587.3,214.59 615.5,246.23" fill="none" stroke="#5db83c" stroke-width="1.15"/>
<polyline points="531,236.28 559.1,183.4 587.3,192.44 615.5,186.34" fill="none" stroke="#5db83c" stroke-width="1.15"/>
<polyline points="531,183.4 559.1,183.4 587.3,247.58 615.5,98.42" fill="none" stroke="#5db83c" stroke-width="1.15"/>
<polyline points="531,196.96 559.1,201.48 587.3,206 615.5,187.92" fill="none" stroke="#5db83c" stroke-width="1.15"/>
<polyline points="531,181.14 559.1,192.44 587.3,183.4 615.5,208.26" fill="none" stroke="#5db83c" stroke-width="1.15"/>
<line x1="531" y1="182.5" x2="531" y2="173.46" stroke="#1e1e1e" stroke-width="1.3" stroke-dasharray="9.5,6.5"/>
<line x1="527.04" y1="173.46" x2="534.96" y2="173.46" stroke="#1e1e1e" stroke-width="1.3"/>
<line x1="531" y1="199.67" x2="531" y2="194.7" stroke="#1e1e1e" stroke-width="1.3" stroke-dasharray="9.5,6.5"/>
<line x1="527.04" y1="199.67" x2="534.96" y2="199.67" stroke="#1e1e1e" stroke-width="1.3"/>
<rect x="523.8" y="182.5" width="14.4" height="12.2" fill="none" stroke="#3656a8" stroke-width="1.2"/>
<line x1="523.8" y1="186.34" x2="538.2" y2="186.34" stroke="#e8312d" stroke-width="1.2"/>
<path d="M527.5 236.28h7M531 232.78v7" stroke="#e8312d" stroke-width="1.1" fill="none"/>
<line x1="559.1" y1="212.78" x2="559.1" y2="195.6" stroke="#1e1e1e" stroke-width="1.3" stroke-dasharray="9.5,6.5"/>
<line x1="555.14" y1="212.78" x2="563.06" y2="212.78" stroke="#1e1e1e" stroke-width="1.3"/>
<rect x="551.9" y="183.4" width="14.4" height="12.2" fill="none" stroke="#3656a8" stroke-width="1.2"/>
<line x1="551.9" y1="183.4" x2="566.3" y2="183.4" stroke="#e8312d" stroke-width="1.2"/>
<path d="M555.6 157.64h7M559.1 154.14v7" stroke="#e8312d" stroke-width="1.1" fill="none"/>
<path d="M555.6 215.94h7M559.1 212.44v7" stroke="#e8312d" stroke-width="1.1" fill="none"/>
<line x1="587.3" y1="183.4" x2="587.3" y2="178.43" stroke="#1e1e1e" stroke-width="1.3" stroke-dasharray="9.5,6.5"/>
<line x1="583.34" y1="178.43" x2="591.26" y2="178.43" stroke="#1e1e1e" stroke-width="1.3"/>
<line x1="587.3" y1="214.59" x2="587.3" y2="202.38" stroke="#1e1e1e" stroke-width="1.3" stroke-dasharray="9.5,6.5"/>
<line x1="583.34" y1="214.59" x2="591.26" y2="214.59" stroke="#1e1e1e" stroke-width="1.3"/>
<rect x="580.1" y="183.4" width="14.4" height="18.98" fill="none" stroke="#3656a8" stroke-width="1.2"/>
<line x1="580.1" y1="191.08" x2="594.5" y2="191.08" stroke="#e8312d" stroke-width="1.2"/>
<path d="M583.8 247.58h7M587.3 244.08v7" stroke="#e8312d" stroke-width="1.1" fill="none"/>
<line x1="615.5" y1="181.59" x2="615.5" y2="168.03" stroke="#1e1e1e" stroke-width="1.3" stroke-dasharray="9.5,6.5"/>
<line x1="611.54" y1="168.03" x2="619.46" y2="168.03" stroke="#1e1e1e" stroke-width="1.3"/>
<line x1="615.5" y1="211.88" x2="615.5" y2="203.29" stroke="#1e1e1e" stroke-width="1.3" stroke-dasharray="9.5,6.5"/>
<line x1="611.54" y1="211.88" x2="619.46" y2="211.88" stroke="#1e1e1e" stroke-width="1.3"/>
<rect x="608.3" y="181.59" width="14.4" height="21.7" fill="none" stroke="#3656a8" stroke-width="1.2"/>
<line x1="608.3" y1="186.34" x2="622.7" y2="186.34" stroke="#e8312d" stroke-width="1.2"/>
<path d="M612 98.42h7M615.5 94.92v7" stroke="#e8312d" stroke-width="1.1" fill="none"/>
<path d="M612 246.23h7M615.5 242.73v7" stroke="#e8312d" stroke-width="1.1" fill="none"/>
<rect x="516.5" y="91.5" width="113" height="163" fill="none" stroke="#575757" stroke-width="1"/>
<text transform="translate(513.4 96.47) scale(1.0 0.97)" text-anchor="end" font-size="10" fill="#3c3c3c">2</text>
<text transform="translate(513.4 119.07) scale(1.0 0.97)" text-anchor="end" font-size="10" fill="#3c3c3c">1.5</text>
<text transform="translate(513.4 141.67) scale(1.0 0.97)" text-anchor="end" font-size="10" fill="#3c3c3c">1</text>
<text transform="translate(513.4 164.27) scale(1.0 0.97)" text-anchor="end" font-size="10" fill="#3c3c3c">0.5</text>
<text transform="translate(513.4 186.87) scale(1.0 0.97)" text-anchor="end" font-size="10" fill="#3c3c3c">0</text>
<text transform="translate(513.4 209.47) scale(1.0 0.97)" text-anchor="end" font-size="10" fill="#3c3c3c">-0.5</text>
<text transform="translate(513.4 232.07) scale(1.0 0.97)" text-anchor="end" font-size="10" fill="#3c3c3c">-1</text>
<text transform="translate(513.4 254.67) scale(1.0 0.97)" text-anchor="end" font-size="10" fill="#3c3c3c">-1.5</text>
<text transform="translate(530.8 266.6) scale(0.96 0.96)" text-anchor="middle" font-size="10" fill="#3c3c3c">1.1</text>
<text transform="translate(559.2 266.6) scale(0.96 0.96)" text-anchor="middle" font-size="10" fill="#3c3c3c">1.3</text>
<text transform="translate(587.4 266.6) scale(0.96 0.96)" text-anchor="middle" font-size="10" fill="#3c3c3c">1.5</text>
<text transform="translate(615.3 266.6) scale(0.96 0.96)" text-anchor="middle" font-size="10" fill="#3c3c3c">2.0</text>
<path d="M516.5 93h2.5M629.5 93h-2.5M516.5 115.6h2.5M629.5 115.6h-2.5M516.5 138.2h2.5M629.5 138.2h-2.5M516.5 160.8h2.5M629.5 160.8h-2.5M516.5 183.4h2.5M629.5 183.4h-2.5M516.5 206h2.5M629.5 206h-2.5M516.5 228.6h2.5M629.5 228.6h-2.5M516.5 251.2h2.5M629.5 251.2h-2.5M531 254.5v-2.5M531 91.5v2.5M559.1 254.5v-2.5M559.1 91.5v2.5M587.3 254.5v-2.5M587.3 91.5v2.5M615.5 254.5v-2.5M615.5 91.5v2.5" stroke="#575757" stroke-width="1"/>
<polyline points="687.4,104.62 715.6,127.32 743.7,140.17 771.7,127.32" fill="none" stroke="#5db83c" stroke-width="1.15"/>
<polyline points="687.4,115.75 715.6,153.02 743.7,99.9 771.7,111.04" fill="none" stroke="#5db83c" stroke-width="1.15"/>
<polyline points="687.4,124.32 715.6,111.47 743.7,131.6 771.7,118.75" fill="none" stroke="#5db83c" stroke-width="1.15"/>
<polyline points="687.4,127.32 715.6,127.32 743.7,127.32 771.7,127.32" fill="none" stroke="#5db83c" stroke-width="1.15"/>
<polyline points="687.4,127.32 715.6,126.46 743.7,160.3 771.7,114.47" fill="none" stroke="#5db83c" stroke-width="1.15"/>
<polyline points="687.4,131.6 715.6,153.87 743.7,99.9 771.7,129.03" fill="none" stroke="#5db83c" stroke-width="1.15"/>
<polyline points="687.4,140.17 715.6,155.59 743.7,149.16 771.7,112.33" fill="none" stroke="#5db83c" stroke-width="1.15"/>
<polyline points="687.4,144.45 715.6,247.68 743.7,144.45 771.7,123.03" fill="none" stroke="#5db83c" stroke-width="1.15"/>
<polyline points="687.4,162.44 715.6,127.32 743.7,136.31 771.7,98.62" fill="none" stroke="#5db83c" stroke-width="1.15"/>
<polyline points="687.4,125.18 715.6,166.3 743.7,163.73 771.7,137.17" fill="none" stroke="#5db83c" stroke-width="1.15"/>
<polyline points="687.4,135.88 715.6,140.17 743.7,175.72 771.7,177.86" fill="none" stroke="#5db83c" stroke-width="1.15"/>
<polyline points="687.4,126.46 715.6,133.74 743.7,200.56 771.7,118.75" fill="none" stroke="#5db83c" stroke-width="1.15"/>
<polyline points="687.4,148.73 715.6,123.03 743.7,127.32 771.7,125.18" fill="none" stroke="#5db83c" stroke-width="1.15"/>
<line x1="687.4" y1="124.32" x2="687.4" y2="104.62" stroke="#1e1e1e" stroke-width="1.3" stroke-dasharray="9.5,6.5"/>
<line x1="683.55" y1="104.62" x2="691.25" y2="104.62" stroke="#1e1e1e" stroke-width="1.3"/>
<line x1="687.4" y1="163.3" x2="687.4" y2="140.17" stroke="#1e1e1e" stroke-width="1.3" stroke-dasharray="9.5,6.5"/>
<line x1="683.55" y1="163.3" x2="691.25" y2="163.3" stroke="#1e1e1e" stroke-width="1.3"/>
<rect x="680.4" y="124.32" width="14" height="15.85" fill="none" stroke="#3656a8" stroke-width="1.2"/>
<line x1="680.4" y1="127.32" x2="694.4" y2="127.32" stroke="#e8312d" stroke-width="1.2"/>
<line x1="715.6" y1="126.46" x2="715.6" y2="111.47" stroke="#1e1e1e" stroke-width="1.3" stroke-dasharray="9.5,6.5"/>
<line x1="711.75" y1="111.47" x2="719.45" y2="111.47" stroke="#1e1e1e" stroke-width="1.3"/>
<line x1="715.6" y1="166.3" x2="715.6" y2="155.59" stroke="#1e1e1e" stroke-width="1.3" stroke-dasharray="9.5,6.5"/>
<line x1="711.75" y1="166.3" x2="719.45" y2="166.3" stroke="#1e1e1e" stroke-width="1.3"/>
<rect x="708.6" y="126.46" width="14" height="29.13" fill="none" stroke="#3656a8" stroke-width="1.2"/>
<line x1="708.6" y1="127.32" x2="722.6" y2="127.32" stroke="#e8312d" stroke-width="1.2"/>
<path d="M712.1 247.68h7M715.6 244.18v7" stroke="#e8312d" stroke-width="1.1" fill="none"/>
<line x1="743.7" y1="127.32" x2="743.7" y2="99.9" stroke="#1e1e1e" stroke-width="1.3" stroke-dasharray="9.5,6.5"/>
<line x1="739.85" y1="99.9" x2="747.55" y2="99.9" stroke="#1e1e1e" stroke-width="1.3"/>
<line x1="743.7" y1="200.56" x2="743.7" y2="163.73" stroke="#1e1e1e" stroke-width="1.3" stroke-dasharray="9.5,6.5"/>
<line x1="739.85" y1="200.56" x2="747.55" y2="200.56" stroke="#1e1e1e" stroke-width="1.3"/>
<rect x="736.7" y="127.32" width="14" height="36.41" fill="none" stroke="#3656a8" stroke-width="1.2"/>
<line x1="736.7" y1="136.31" x2="750.7" y2="136.31" stroke="#e8312d" stroke-width="1.2"/>
<line x1="771.7" y1="111.04" x2="771.7" y2="98.62" stroke="#1e1e1e" stroke-width="1.3" stroke-dasharray="9.5,6.5"/>
<line x1="767.85" y1="98.62" x2="775.55" y2="98.62" stroke="#1e1e1e" stroke-width="1.3"/>
<line x1="771.7" y1="137.17" x2="771.7" y2="129.03" stroke="#1e1e1e" stroke-width="1.3" stroke-dasharray="9.5,6.5"/>
<line x1="767.85" y1="137.17" x2="775.55" y2="137.17" stroke="#1e1e1e" stroke-width="1.3"/>
<rect x="764.7" y="111.04" width="14" height="17.99" fill="none" stroke="#3656a8" stroke-width="1.2"/>
<line x1="764.7" y1="127.32" x2="778.7" y2="127.32" stroke="#e8312d" stroke-width="1.2"/>
<path d="M768.2 177.86h7M771.7 174.36v7" stroke="#e8312d" stroke-width="1.1" fill="none"/>
<rect x="673.5" y="91.5" width="112" height="163" fill="none" stroke="#575757" stroke-width="1"/>
<text transform="translate(670.4 109.37) scale(1.0 0.97)" text-anchor="end" font-size="10" fill="#3c3c3c">0.5</text>
<text transform="translate(670.4 130.79) scale(1.0 0.97)" text-anchor="end" font-size="10" fill="#3c3c3c">0</text>
<text transform="translate(670.4 152.21) scale(1.0 0.97)" text-anchor="end" font-size="10" fill="#3c3c3c">-0.5</text>
<text transform="translate(670.4 173.62) scale(1.0 0.97)" text-anchor="end" font-size="10" fill="#3c3c3c">-1</text>
<text transform="translate(670.4 195.04) scale(1.0 0.97)" text-anchor="end" font-size="10" fill="#3c3c3c">-1.5</text>
<text transform="translate(670.4 216.46) scale(1.0 0.97)" text-anchor="end" font-size="10" fill="#3c3c3c">-2</text>
<text transform="translate(670.4 237.87) scale(1.0 0.97)" text-anchor="end" font-size="10" fill="#3c3c3c">-2.5</text>
<text transform="translate(687.7 266.7) scale(0.96 0.96)" text-anchor="middle" font-size="10" fill="#3c3c3c">1.1</text>
<text transform="translate(715.9 266.7) scale(0.96 0.96)" text-anchor="middle" font-size="10" fill="#3c3c3c">1.3</text>
<text transform="translate(743.8 266.7) scale(0.96 0.96)" text-anchor="middle" font-size="10" fill="#3c3c3c">1.5</text>
<text transform="translate(771.4 266.7) scale(0.96 0.96)" text-anchor="middle" font-size="10" fill="#3c3c3c">2.0</text>
<path d="M673.5 105.9h2.5M785.5 105.9h-2.5M673.5 127.32h2.5M785.5 127.32h-2.5M673.5 148.73h2.5M785.5 148.73h-2.5M673.5 170.15h2.5M785.5 170.15h-2.5M673.5 191.57h2.5M785.5 191.57h-2.5M673.5 212.98h2.5M785.5 212.98h-2.5M673.5 234.4h2.5M785.5 234.4h-2.5M687.4 254.5v-2.5M687.4 91.5v2.5M715.6 254.5v-2.5M715.6 91.5v2.5M743.7 254.5v-2.5M743.7 91.5v2.5M771.7 254.5v-2.5M771.7 91.5v2.5" stroke="#575757" stroke-width="1"/>
<line x1="52.9" y1="361.47" x2="52.9" y2="312.1" stroke="#1e1e1e" stroke-width="1.3" stroke-dasharray="9.5,6.5"/>
<line x1="49.27" y1="312.1" x2="56.53" y2="312.1" stroke="#1e1e1e" stroke-width="1.3"/>
<line x1="52.9" y1="435.15" x2="52.9" y2="399.75" stroke="#1e1e1e" stroke-width="1.3" stroke-dasharray="9.5,6.5"/>
<line x1="49.27" y1="435.15" x2="56.53" y2="435.15" stroke="#1e1e1e" stroke-width="1.3"/>
<rect x="46.3" y="361.47" width="13.2" height="38.27" fill="none" stroke="#3656a8" stroke-width="1.2"/>
<line x1="46.3" y1="384.06" x2="59.5" y2="384.06" stroke="#e8312d" stroke-width="1.2"/>
<line x1="80.2" y1="384.82" x2="80.2" y2="354.2" stroke="#1e1e1e" stroke-width="1.3" stroke-dasharray="9.5,6.5"/>
<line x1="76.57" y1="354.2" x2="83.83" y2="354.2" stroke="#1e1e1e" stroke-width="1.3"/>
<line x1="80.2" y1="468.07" x2="80.2" y2="429.22" stroke="#1e1e1e" stroke-width="1.3" stroke-dasharray="9.5,6.5"/>
<line x1="76.57" y1="468.07" x2="83.83" y2="468.07" stroke="#1e1e1e" stroke-width="1.3"/>
<rect x="73.6" y="384.82" width="13.2" height="44.4" fill="none" stroke="#3656a8" stroke-width="1.2"/>
<line x1="73.6" y1="419.27" x2="86.8" y2="419.27" stroke="#e8312d" stroke-width="1.2"/>
<line x1="107.1" y1="406.83" x2="107.1" y2="377.17" stroke="#1e1e1e" stroke-width="1.3" stroke-dasharray="9.5,6.5"/>
<line x1="103.47" y1="377.17" x2="110.73" y2="377.17" stroke="#1e1e1e" stroke-width="1.3"/>
<line x1="107.1" y1="461.37" x2="107.1" y2="441.47" stroke="#1e1e1e" stroke-width="1.3" stroke-dasharray="9.5,6.5"/>
<line x1="103.47" y1="461.37" x2="110.73" y2="461.37" stroke="#1e1e1e" stroke-width="1.3"/>
<rect x="100.5" y="406.83" width="13.2" height="34.64" fill="none" stroke="#3656a8" stroke-width="1.2"/>
<line x1="100.5" y1="425.78" x2="113.7" y2="425.78" stroke="#e8312d" stroke-width="1.2"/>
<line x1="134.5" y1="435.15" x2="134.5" y2="425.01" stroke="#1e1e1e" stroke-width="1.3" stroke-dasharray="9.5,6.5"/>
<line x1="130.87" y1="425.01" x2="138.13" y2="425.01" stroke="#1e1e1e" stroke-width="1.3"/>
<line x1="134.5" y1="467.11" x2="134.5" y2="458.12" stroke="#1e1e1e" stroke-width="1.3" stroke-dasharray="9.5,6.5"/>
<line x1="130.87" y1="467.11" x2="138.13" y2="467.11" stroke="#1e1e1e" stroke-width="1.3"/>
<rect x="127.9" y="435.15" width="13.2" height="22.96" fill="none" stroke="#3656a8" stroke-width="1.2"/>
<line x1="127.9" y1="444.15" x2="141.1" y2="444.15" stroke="#e8312d" stroke-width="1.2"/>
<rect x="39.5" y="304.5" width="109" height="171" fill="none" stroke="#575757" stroke-width="1"/>
<text transform="translate(36.4 315.57) scale(1.0 0.97)" text-anchor="end" font-size="10" stroke="#333" stroke-width="0.2">6</text>
<text transform="translate(36.4 334.71) scale(1.0 0.97)" text-anchor="end" font-size="10" stroke="#333" stroke-width="0.2">5</text>
<text transform="translate(36.4 353.85) scale(1.0 0.97)" text-anchor="end" font-size="10" stroke="#333" stroke-width="0.2">4</text>
<text transform="translate(36.4 372.99) scale(1.0 0.97)" text-anchor="end" font-size="10" stroke="#333" stroke-width="0.2">3</text>
<text transform="translate(36.4 392.12) scale(1.0 0.97)" text-anchor="end" font-size="10" stroke="#333" stroke-width="0.2">2</text>
<text transform="translate(36.4 411.26) scale(1.0 0.97)" text-anchor="end" font-size="10" stroke="#333" stroke-width="0.2">1</text>
<text transform="translate(36.4 430.4) scale(1.0 0.97)" text-anchor="end" font-size="10" stroke="#333" stroke-width="0.2">0</text>
<text transform="translate(36.4 449.54) scale(1.0 0.97)" text-anchor="end" font-size="10" stroke="#333" stroke-width="0.2">-1</text>
<text transform="translate(36.4 468.67) scale(1.0 0.97)" text-anchor="end" font-size="10" stroke="#333" stroke-width="0.2">-2</text>
<text transform="translate(50.9 488.9) scale(0.9 0.96)" text-anchor="middle" font-size="10" stroke="#333" stroke-width="0.2">1.1</text>
<text transform="translate(76.5 488.9) scale(0.9 0.96)" text-anchor="middle" font-size="10" stroke="#333" stroke-width="0.2">1.2</text>
<text transform="translate(107 488.9) scale(0.9 0.96)" text-anchor="middle" font-size="10" stroke="#333" stroke-width="0.2">1.5</text>
<text transform="translate(137 488.9) scale(0.9 0.96)" text-anchor="middle" font-size="10" stroke="#333" stroke-width="0.2">2.0</text>
<path d="M39.5 312.1h2.5M148.5 312.1h-2.5M39.5 331.24h2.5M148.5 331.24h-2.5M39.5 350.38h2.5M148.5 350.38h-2.5M39.5 369.51h2.5M148.5 369.51h-2.5M39.5 388.65h2.5M148.5 388.65h-2.5M39.5 407.79h2.5M148.5 407.79h-2.5M39.5 426.93h2.5M148.5 426.93h-2.5M39.5 446.06h2.5M148.5 446.06h-2.5M39.5 465.2h2.5M148.5 465.2h-2.5M52.9 475.5v-2.5M52.9 304.5v2.5M80.2 475.5v-2.5M80.2 304.5v2.5M107.1 475.5v-2.5M107.1 304.5v2.5M134.5 475.5v-2.5M134.5 304.5v2.5" stroke="#575757" stroke-width="1"/>
<line x1="185.6" y1="339.04" x2="185.6" y2="312.52" stroke="#1e1e1e" stroke-width="1.3" stroke-dasharray="9.5,6.5"/>
<line x1="181.64" y1="312.52" x2="189.56" y2="312.52" stroke="#1e1e1e" stroke-width="1.3"/>
<line x1="185.6" y1="415.76" x2="185.6" y2="385.5" stroke="#1e1e1e" stroke-width="1.3" stroke-dasharray="9.5,6.5"/>
<line x1="181.64" y1="415.76" x2="189.56" y2="415.76" stroke="#1e1e1e" stroke-width="1.3"/>
<rect x="178.4" y="339.04" width="14.4" height="46.46" fill="none" stroke="#3656a8" stroke-width="1.2"/>
<line x1="178.4" y1="362.89" x2="192.8" y2="362.89" stroke="#e8312d" stroke-width="1.2"/>
<line x1="213.5" y1="405.25" x2="213.5" y2="378.02" stroke="#1e1e1e" stroke-width="1.3" stroke-dasharray="9.5,6.5"/>
<line x1="209.54" y1="378.02" x2="217.46" y2="378.02" stroke="#1e1e1e" stroke-width="1.3"/>
<line x1="213.5" y1="468.8" x2="213.5" y2="442.46" stroke="#1e1e1e" stroke-width="1.3" stroke-dasharray="9.5,6.5"/>
<line x1="209.54" y1="468.8" x2="217.46" y2="468.8" stroke="#1e1e1e" stroke-width="1.3"/>
<rect x="206.3" y="405.25" width="14.4" height="37.2" fill="none" stroke="#3656a8" stroke-width="1.2"/>
<line x1="206.3" y1="422.16" x2="220.7" y2="422.16" stroke="#e8312d" stroke-width="1.2"/>
<path d="M210 347.76h7M213.5 344.26v7" stroke="#e8312d" stroke-width="1.1" fill="none"/>
<line x1="241.9" y1="416.29" x2="241.9" y2="401.16" stroke="#1e1e1e" stroke-width="1.3" stroke-dasharray="9.5,6.5"/>
<line x1="237.94" y1="401.16" x2="245.86" y2="401.16" stroke="#1e1e1e" stroke-width="1.3"/>
<line x1="241.9" y1="461.5" x2="241.9" y2="439.07" stroke="#1e1e1e" stroke-width="1.3" stroke-dasharray="9.5,6.5"/>
<line x1="237.94" y1="461.5" x2="245.86" y2="461.5" stroke="#1e1e1e" stroke-width="1.3"/>
<rect x="234.7" y="416.29" width="14.4" height="22.78" fill="none" stroke="#3656a8" stroke-width="1.2"/>
<line x1="234.7" y1="432.13" x2="249.1" y2="432.13" stroke="#e8312d" stroke-width="1.2"/>
<line x1="269.8" y1="442.28" x2="269.8" y2="433.2" stroke="#1e1e1e" stroke-width="1.3" stroke-dasharray="9.5,6.5"/>
<line x1="265.84" y1="433.2" x2="273.76" y2="433.2" stroke="#1e1e1e" stroke-width="1.3"/>
<line x1="269.8" y1="466.49" x2="269.8" y2="454.56" stroke="#1e1e1e" stroke-width="1.3" stroke-dasharray="9.5,6.5"/>
<line x1="265.84" y1="466.49" x2="273.76" y2="466.49" stroke="#1e1e1e" stroke-width="1.3"/>
<rect x="262.6" y="442.28" width="14.4" height="12.28" fill="none" stroke="#3656a8" stroke-width="1.2"/>
<line x1="262.6" y1="449.58" x2="277" y2="449.58" stroke="#e8312d" stroke-width="1.2"/>
<rect x="171.5" y="304.5" width="112" height="172" fill="none" stroke="#575757" stroke-width="1"/>
<text transform="translate(168.4 312.07) scale(1.0 0.97)" text-anchor="end" font-size="10" stroke="#333" stroke-width="0.2">8</text>
<text transform="translate(168.4 329.87) scale(1.0 0.97)" text-anchor="end" font-size="10" stroke="#333" stroke-width="0.2">7</text>
<text transform="translate(168.4 347.67) scale(1.0 0.97)" text-anchor="end" font-size="10" stroke="#333" stroke-width="0.2">6</text>
<text transform="translate(168.4 365.47) scale(1.0 0.97)" text-anchor="end" font-size="10" stroke="#333" stroke-width="0.2">5</text>
<text transform="translate(168.4 383.27) scale(1.0 0.97)" text-anchor="end" font-size="10" stroke="#333" stroke-width="0.2">4</text>
<text transform="translate(168.4 401.07) scale(1.0 0.97)" text-anchor="end" font-size="10" stroke="#333" stroke-width="0.2">3</text>
<text transform="translate(168.4 418.87) scale(1.0 0.97)" text-anchor="end" font-size="10" stroke="#333" stroke-width="0.2">2</text>
<text transform="translate(168.4 436.67) scale(1.0 0.97)" text-anchor="end" font-size="10" stroke="#333" stroke-width="0.2">1</text>
<text transform="translate(168.4 454.47) scale(1.0 0.97)" text-anchor="end" font-size="10" stroke="#333" stroke-width="0.2">0</text>
<text transform="translate(168.4 472.27) scale(1.0 0.97)" text-anchor="end" font-size="10" stroke="#333" stroke-width="0.2">-1</text>
<text transform="translate(185 489.3) scale(0.9 0.96)" text-anchor="middle" font-size="10" stroke="#333" stroke-width="0.2">1.1</text>
<text transform="translate(214.4 489.3) scale(0.9 0.96)" text-anchor="middle" font-size="10" stroke="#333" stroke-width="0.2">1.2</text>
<text transform="translate(241.4 489.3) scale(0.9 0.96)" text-anchor="middle" font-size="10" stroke="#333" stroke-width="0.2">1.5</text>
<text transform="translate(269 489.3) scale(0.9 0.96)" text-anchor="middle" font-size="10" stroke="#333" stroke-width="0.2">2.0</text>
<path d="M171.5 308.6h2.5M283.5 308.6h-2.5M171.5 326.4h2.5M283.5 326.4h-2.5M171.5 344.2h2.5M283.5 344.2h-2.5M171.5 362h2.5M283.5 362h-2.5M171.5 379.8h2.5M283.5 379.8h-2.5M171.5 397.6h2.5M283.5 397.6h-2.5M171.5 415.4h2.5M283.5 415.4h-2.5M171.5 433.2h2.5M283.5 433.2h-2.5M171.5 451h2.5M283.5 451h-2.5M171.5 468.8h2.5M283.5 468.8h-2.5M185.6 476.5v-2.5M185.6 304.5v2.5M213.5 476.5v-2.5M213.5 304.5v2.5M241.9 476.5v-2.5M241.9 304.5v2.5M269.8 476.5v-2.5M269.8 304.5v2.5" stroke="#575757" stroke-width="1"/>
<line x1="324.5" y1="340.55" x2="324.5" y2="312.98" stroke="#1e1e1e" stroke-width="1.3" stroke-dasharray="9.5,6.5"/>
<line x1="320.65" y1="312.98" x2="328.35" y2="312.98" stroke="#1e1e1e" stroke-width="1.3"/>
<line x1="324.5" y1="398.41" x2="324.5" y2="390.68" stroke="#1e1e1e" stroke-width="1.3" stroke-dasharray="9.5,6.5"/>
<line x1="320.65" y1="398.41" x2="328.35" y2="398.41" stroke="#1e1e1e" stroke-width="1.3"/>
<rect x="317.5" y="340.55" width="14" height="50.13" fill="none" stroke="#3656a8" stroke-width="1.2"/>
<line x1="317.5" y1="369.58" x2="331.5" y2="369.58" stroke="#e8312d" stroke-width="1.2"/>
<line x1="352.4" y1="395.27" x2="352.4" y2="370.84" stroke="#1e1e1e" stroke-width="1.3" stroke-dasharray="9.5,6.5"/>
<line x1="348.55" y1="370.84" x2="356.25" y2="370.84" stroke="#1e1e1e" stroke-width="1.3"/>
<line x1="352.4" y1="469" x2="352.4" y2="429.94" stroke="#1e1e1e" stroke-width="1.3" stroke-dasharray="9.5,6.5"/>
<line x1="348.55" y1="469" x2="356.25" y2="469" stroke="#1e1e1e" stroke-width="1.3"/>
<rect x="345.4" y="395.27" width="14" height="34.67" fill="none" stroke="#3656a8" stroke-width="1.2"/>
<line x1="345.4" y1="418.87" x2="359.4" y2="418.87" stroke="#e8312d" stroke-width="1.2"/>
<path d="M348.9 323.64h7M352.4 320.14v7" stroke="#e8312d" stroke-width="1.1" fill="none"/>
<line x1="379.5" y1="440.39" x2="379.5" y2="427.23" stroke="#1e1e1e" stroke-width="1.3" stroke-dasharray="9.5,6.5"/>
<line x1="375.65" y1="440.39" x2="383.35" y2="440.39" stroke="#1e1e1e" stroke-width="1.3"/>
<rect x="372.5" y="412.4" width="14" height="14.83" fill="none" stroke="#3656a8" stroke-width="1.2"/>
<line x1="372.5" y1="418.67" x2="386.5" y2="418.67" stroke="#e8312d" stroke-width="1.2"/>
<path d="M376 362.48h7M379.5 358.98v7" stroke="#e8312d" stroke-width="1.1" fill="none"/>
<path d="M376 387.96h7M379.5 384.46v7" stroke="#e8312d" stroke-width="1.1" fill="none"/>
<path d="M376 389.63h7M379.5 386.13v7" stroke="#e8312d" stroke-width="1.1" fill="none"/>
<path d="M376 452.29h7M379.5 448.79v7" stroke="#e8312d" stroke-width="1.1" fill="none"/>
<line x1="407.1" y1="440.6" x2="407.1" y2="428.69" stroke="#1e1e1e" stroke-width="1.3" stroke-dasharray="9.5,6.5"/>
<line x1="403.25" y1="428.69" x2="410.95" y2="428.69" stroke="#1e1e1e" stroke-width="1.3"/>
<line x1="407.1" y1="469" x2="407.1" y2="452.5" stroke="#1e1e1e" stroke-width="1.3" stroke-dasharray="9.5,6.5"/>
<line x1="403.25" y1="469" x2="410.95" y2="469" stroke="#1e1e1e" stroke-width="1.3"/>
<rect x="400.1" y="440.6" width="14" height="11.9" fill="none" stroke="#3656a8" stroke-width="1.2"/>
<line x1="400.1" y1="445.82" x2="414.1" y2="445.82" stroke="#e8312d" stroke-width="1.2"/>
<rect x="310.5" y="305.5" width="111" height="171" fill="none" stroke="#575757" stroke-width="1"/>
<text transform="translate(307.4 326.27) scale(1.0 0.97)" text-anchor="end" font-size="10" stroke="#333" stroke-width="0.2">5</text>
<text transform="translate(307.4 347.16) scale(1.0 0.97)" text-anchor="end" font-size="10" stroke="#333" stroke-width="0.2">4</text>
<text transform="translate(307.4 368.04) scale(1.0 0.97)" text-anchor="end" font-size="10" stroke="#333" stroke-width="0.2">3</text>
<text transform="translate(307.4 388.93) scale(1.0 0.97)" text-anchor="end" font-size="10" stroke="#333" stroke-width="0.2">2</text>
<text transform="translate(307.4 409.82) scale(1.0 0.97)" text-anchor="end" font-size="10" stroke="#333" stroke-width="0.2">1</text>
<text transform="translate(307.4 430.7) scale(1.0 0.97)" text-anchor="end" font-size="10" stroke="#333" stroke-width="0.2">0</text>
<text transform="translate(307.4 451.59) scale(1.0 0.97)" text-anchor="end" font-size="10" stroke="#333" stroke-width="0.2">-1</text>
<text transform="translate(307.4 472.47) scale(1.0 0.97)" text-anchor="end" font-size="10" stroke="#333" stroke-width="0.2">-2</text>
<text transform="translate(326.5 489.3) scale(0.9 0.96)" text-anchor="middle" font-size="10" stroke="#333" stroke-width="0.2">1.1</text>
<text transform="translate(352.8 489.3) scale(0.9 0.96)" text-anchor="middle" font-size="10" stroke="#333" stroke-width="0.2">1.2</text>
<text transform="translate(380.5 489.3) scale(0.9 0.96)" text-anchor="middle" font-size="10" stroke="#333" stroke-width="0.2">1.5</text>
<text transform="translate(406 489.3) scale(0.9 0.96)" text-anchor="middle" font-size="10" stroke="#333" stroke-width="0.2">2.0</text>
<path d="M310.5 322.8h2.5M421.5 322.8h-2.5M310.5 343.69h2.5M421.5 343.69h-2.5M310.5 364.57h2.5M421.5 364.57h-2.5M310.5 385.46h2.5M421.5 385.46h-2.5M310.5 406.34h2.5M421.5 406.34h-2.5M310.5 427.23h2.5M421.5 427.23h-2.5M310.5 448.11h2.5M421.5 448.11h-2.5M310.5 469h2.5M421.5 469h-2.5M324.5 476.5v-2.5M324.5 305.5v2.5M352.4 476.5v-2.5M352.4 305.5v2.5M379.5 476.5v-2.5M379.5 305.5v2.5M407.1 476.5v-2.5M407.1 305.5v2.5" stroke="#575757" stroke-width="1"/>
<line x1="532.9" y1="372.29" x2="532.9" y2="337.15" stroke="#1e1e1e" stroke-width="1.3" stroke-dasharray="9.5,6.5"/>
<line x1="529.05" y1="337.15" x2="536.75" y2="337.15" stroke="#1e1e1e" stroke-width="1.3"/>
<line x1="532.9" y1="458.04" x2="532.9" y2="423.84" stroke="#1e1e1e" stroke-width="1.3" stroke-dasharray="9.5,6.5"/>
<line x1="529.05" y1="458.04" x2="536.75" y2="458.04" stroke="#1e1e1e" stroke-width="1.3"/>
<rect x="525.9" y="372.29" width="14" height="51.54" fill="none" stroke="#3656a8" stroke-width="1.2"/>
<line x1="525.9" y1="401.81" x2="539.9" y2="401.81" stroke="#e8312d" stroke-width="1.2"/>
<line x1="560.7" y1="394.79" x2="560.7" y2="363.39" stroke="#1e1e1e" stroke-width="1.3" stroke-dasharray="9.5,6.5"/>
<line x1="556.85" y1="363.39" x2="564.55" y2="363.39" stroke="#1e1e1e" stroke-width="1.3"/>
<line x1="560.7" y1="439.3" x2="560.7" y2="417.28" stroke="#1e1e1e" stroke-width="1.3" stroke-dasharray="9.5,6.5"/>
<line x1="556.85" y1="439.3" x2="564.55" y2="439.3" stroke="#1e1e1e" stroke-width="1.3"/>
<rect x="553.7" y="394.79" width="14" height="22.49" fill="none" stroke="#3656a8" stroke-width="1.2"/>
<line x1="553.7" y1="401.81" x2="567.7" y2="401.81" stroke="#e8312d" stroke-width="1.2"/>
<path d="M557.2 354.96h7M560.7 351.46v7" stroke="#e8312d" stroke-width="1.1" fill="none"/>
<path d="M557.2 462.73h7M560.7 459.23v7" stroke="#e8312d" stroke-width="1.1" fill="none"/>
<line x1="588.6" y1="376.51" x2="588.6" y2="353.55" stroke="#1e1e1e" stroke-width="1.3" stroke-dasharray="9.5,6.5"/>
<line x1="584.75" y1="353.55" x2="592.45" y2="353.55" stroke="#1e1e1e" stroke-width="1.3"/>
<line x1="588.6" y1="446.33" x2="588.6" y2="405.09" stroke="#1e1e1e" stroke-width="1.3" stroke-dasharray="9.5,6.5"/>
<line x1="584.75" y1="446.33" x2="592.45" y2="446.33" stroke="#1e1e1e" stroke-width="1.3"/>
<rect x="581.6" y="376.51" width="14" height="28.58" fill="none" stroke="#3656a8" stroke-width="1.2"/>
<line x1="581.6" y1="395.25" x2="595.6" y2="395.25" stroke="#e8312d" stroke-width="1.2"/>
<line x1="615.7" y1="399.94" x2="615.7" y2="385.88" stroke="#1e1e1e" stroke-width="1.3" stroke-dasharray="9.5,6.5"/>
<line x1="611.85" y1="385.88" x2="619.55" y2="385.88" stroke="#1e1e1e" stroke-width="1.3"/>
<line x1="615.7" y1="431.33" x2="615.7" y2="421.96" stroke="#1e1e1e" stroke-width="1.3" stroke-dasharray="9.5,6.5"/>
<line x1="611.85" y1="431.33" x2="619.55" y2="431.33" stroke="#1e1e1e" stroke-width="1.3"/>
<rect x="608.7" y="399.94" width="14" height="22.02" fill="none" stroke="#3656a8" stroke-width="1.2"/>
<line x1="608.7" y1="405.09" x2="622.7" y2="405.09" stroke="#e8312d" stroke-width="1.2"/>
<path d="M612.2 313.72h7M615.7 310.22v7" stroke="#e8312d" stroke-width="1.1" fill="none"/>
<path d="M612.2 466.48h7M615.7 462.98v7" stroke="#e8312d" stroke-width="1.1" fill="none"/>
<rect x="519.5" y="306.5" width="110" height="168" fill="none" stroke="#575757" stroke-width="1"/>
<text transform="translate(516.4 311.57) scale(1.0 0.97)" text-anchor="end" font-size="10" fill="#3c3c3c">2</text>
<text transform="translate(516.4 335) scale(1.0 0.97)" text-anchor="end" font-size="10" fill="#3c3c3c">1.5</text>
<text transform="translate(516.4 358.43) scale(1.0 0.97)" text-anchor="end" font-size="10" fill="#3c3c3c">1</text>
<text transform="translate(516.4 381.86) scale(1.0 0.97)" text-anchor="end" font-size="10" fill="#3c3c3c">0.5</text>
<text transform="translate(516.4 405.29) scale(1.0 0.97)" text-anchor="end" font-size="10" fill="#3c3c3c">0</text>
<text transform="translate(516.4 428.72) scale(1.0 0.97)" text-anchor="end" font-size="10" fill="#3c3c3c">-0.5</text>
<text transform="translate(516.4 452.14) scale(1.0 0.97)" text-anchor="end" font-size="10" fill="#3c3c3c">-1</text>
<text transform="translate(516.4 475.57) scale(1.0 0.97)" text-anchor="end" font-size="10" fill="#3c3c3c">-1.5</text>
<text transform="translate(532.7 486.3) scale(0.96 0.96)" text-anchor="middle" font-size="10" fill="#3c3c3c">1.1</text>
<text transform="translate(560.7 486.3) scale(0.96 0.96)" text-anchor="middle" font-size="10" fill="#3c3c3c">1.3</text>
<text transform="translate(588.1 486.3) scale(0.96 0.96)" text-anchor="middle" font-size="10" fill="#3c3c3c">1.5</text>
<text transform="translate(615.4 486.3) scale(0.96 0.96)" text-anchor="middle" font-size="10" fill="#3c3c3c">2.0</text>
<path d="M519.5 308.1h2.5M629.5 308.1h-2.5M519.5 331.53h2.5M629.5 331.53h-2.5M519.5 354.96h2.5M629.5 354.96h-2.5M519.5 378.39h2.5M629.5 378.39h-2.5M519.5 401.81h2.5M629.5 401.81h-2.5M519.5 425.24h2.5M629.5 425.24h-2.5M519.5 448.67h2.5M629.5 448.67h-2.5M519.5 472.1h2.5M629.5 472.1h-2.5M532.9 474.5v-2.5M532.9 306.5v2.5M560.7 474.5v-2.5M560.7 306.5v2.5M588.6 474.5v-2.5M588.6 306.5v2.5M615.7 474.5v-2.5M615.7 306.5v2.5" stroke="#575757" stroke-width="1"/>
<line x1="684.5" y1="430.58" x2="684.5" y2="413.5" stroke="#1e1e1e" stroke-width="1.3" stroke-dasharray="9.5,6.5"/>
<line x1="680.54" y1="430.58" x2="688.46" y2="430.58" stroke="#1e1e1e" stroke-width="1.3"/>
<rect x="677.3" y="397.85" width="14.4" height="15.65" fill="none" stroke="#3656a8" stroke-width="1.2"/>
<line x1="677.3" y1="397.85" x2="691.7" y2="397.85" stroke="#e8312d" stroke-width="1.2"/>
<path d="M681 342.83h7M684.5 339.33v7" stroke="#e8312d" stroke-width="1.1" fill="none"/>
<path d="M681 362.75h7M684.5 359.25v7" stroke="#e8312d" stroke-width="1.1" fill="none"/>
<line x1="712.6" y1="395.48" x2="712.6" y2="381.25" stroke="#1e1e1e" stroke-width="1.3" stroke-dasharray="9.5,6.5"/>
<line x1="708.64" y1="381.25" x2="716.56" y2="381.25" stroke="#1e1e1e" stroke-width="1.3"/>
<line x1="712.6" y1="438.17" x2="712.6" y2="414.93" stroke="#1e1e1e" stroke-width="1.3" stroke-dasharray="9.5,6.5"/>
<line x1="708.64" y1="438.17" x2="716.56" y2="438.17" stroke="#1e1e1e" stroke-width="1.3"/>
<rect x="705.4" y="395.48" width="14.4" height="19.45" fill="none" stroke="#3656a8" stroke-width="1.2"/>
<line x1="705.4" y1="397.85" x2="719.8" y2="397.85" stroke="#e8312d" stroke-width="1.2"/>
<path d="M709.1 315.32h7M712.6 311.82v7" stroke="#e8312d" stroke-width="1.1" fill="none"/>
<path d="M709.1 365.12h7M712.6 361.62v7" stroke="#e8312d" stroke-width="1.1" fill="none"/>
<path d="M709.1 454.77h7M712.6 451.27v7" stroke="#e8312d" stroke-width="1.1" fill="none"/>
<line x1="741.1" y1="387.41" x2="741.1" y2="372.71" stroke="#1e1e1e" stroke-width="1.3" stroke-dasharray="9.5,6.5"/>
<line x1="737.14" y1="372.71" x2="745.06" y2="372.71" stroke="#1e1e1e" stroke-width="1.3"/>
<line x1="741.1" y1="418.72" x2="741.1" y2="409.23" stroke="#1e1e1e" stroke-width="1.3" stroke-dasharray="9.5,6.5"/>
<line x1="737.14" y1="418.72" x2="745.06" y2="418.72" stroke="#1e1e1e" stroke-width="1.3"/>
<rect x="733.9" y="387.41" width="14.4" height="21.82" fill="none" stroke="#3656a8" stroke-width="1.2"/>
<line x1="733.9" y1="395.48" x2="748.3" y2="395.48" stroke="#e8312d" stroke-width="1.2"/>
<path d="M737.6 447.65h7M741.1 444.15v7" stroke="#e8312d" stroke-width="1.1" fill="none"/>
<path d="M737.6 458.56h7M741.1 455.06v7" stroke="#e8312d" stroke-width="1.1" fill="none"/>
<path d="M737.6 470.42h7M741.1 466.92v7" stroke="#e8312d" stroke-width="1.1" fill="none"/>
<line x1="769.6" y1="380.77" x2="769.6" y2="366.54" stroke="#1e1e1e" stroke-width="1.3" stroke-dasharray="9.5,6.5"/>
<line x1="765.64" y1="366.54" x2="773.56" y2="366.54" stroke="#1e1e1e" stroke-width="1.3"/>
<line x1="769.6" y1="409.23" x2="769.6" y2="400.22" stroke="#1e1e1e" stroke-width="1.3" stroke-dasharray="9.5,6.5"/>
<line x1="765.64" y1="409.23" x2="773.56" y2="409.23" stroke="#1e1e1e" stroke-width="1.3"/>
<rect x="762.4" y="380.77" width="14.4" height="19.45" fill="none" stroke="#3656a8" stroke-width="1.2"/>
<line x1="762.4" y1="397.85" x2="776.8" y2="397.85" stroke="#e8312d" stroke-width="1.2"/>
<path d="M766.1 453.82h7M769.6 450.32v7" stroke="#e8312d" stroke-width="1.1" fill="none"/>
<rect x="669.5" y="306.5" width="115" height="172" fill="none" stroke="#575757" stroke-width="1"/>
<text transform="translate(666.4 330.17) scale(1.0 0.97)" text-anchor="end" font-size="10" fill="#3c3c3c">1.5</text>
<text transform="translate(666.4 353.89) scale(1.0 0.97)" text-anchor="end" font-size="10" fill="#3c3c3c">1</text>
<text transform="translate(666.4 377.61) scale(1.0 0.97)" text-anchor="end" font-size="10" fill="#3c3c3c">0.5</text>
<text transform="translate(666.4 401.32) scale(1.0 0.97)" text-anchor="end" font-size="10" fill="#3c3c3c">0</text>
<text transform="translate(666.4 425.04) scale(1.0 0.97)" text-anchor="end" font-size="10" fill="#3c3c3c">-0.5</text>
<text transform="translate(666.4 448.76) scale(1.0 0.97)" text-anchor="end" font-size="10" fill="#3c3c3c">-1</text>
<text transform="translate(666.4 472.47) scale(1.0 0.97)" text-anchor="end" font-size="10" fill="#3c3c3c">-1.5</text>
<text transform="translate(683.9 490.3) scale(0.96 0.96)" text-anchor="middle" font-size="10" fill="#3c3c3c">1.1</text>
<text transform="translate(712.8 490.3) scale(0.96 0.96)" text-anchor="middle" font-size="10" fill="#3c3c3c">1.3</text>
<text transform="translate(741.3 490.3) scale(0.96 0.96)" text-anchor="middle" font-size="10" fill="#3c3c3c">1.5</text>
<text transform="translate(769.4 490.3) scale(0.96 0.96)" text-anchor="middle" font-size="10" fill="#3c3c3c">2.0</text>
<path d="M669.5 326.7h2.5M784.5 326.7h-2.5M669.5 350.42h2.5M784.5 350.42h-2.5M669.5 374.13h2.5M784.5 374.13h-2.5M669.5 397.85h2.5M784.5 397.85h-2.5M669.5 421.57h2.5M784.5 421.57h-2.5M669.5 445.28h2.5M784.5 445.28h-2.5M669.5 469h2.5M784.5 469h-2.5M684.5 478.5v-2.5M684.5 306.5v2.5M712.6 478.5v-2.5M712.6 306.5v2.5M741.1 478.5v-2.5M741.1 306.5v2.5M769.6 478.5v-2.5M769.6 306.5v2.5" stroke="#575757" stroke-width="1"/>
</g>
<text x="45.11" y="14.9" font-size="18" fill="#111" textLength="101.49" lengthAdjust="spacingAndGlyphs">Limb cortex</text>
<text x="207.29" y="15.25" font-size="18" fill="#111" textLength="23.97" lengthAdjust="spacingAndGlyphs">M1</text>
<text x="346.4" y="15.2" font-size="18" fill="#111" textLength="16.71" lengthAdjust="spacingAndGlyphs">S1</text>
<text x="541.63" y="18.3" font-size="17" fill="#111" textLength="230.88" lengthAdjust="spacingAndGlyphs">PFC-vTH (Cortico-Thalamic)</text>
<text x="-0.24" y="79" font-size="18" fill="#111" textLength="21.51" lengthAdjust="spacingAndGlyphs">(a)</text>
<text x="2.96" y="304.3" font-size="18" fill="#111" textLength="22.87" lengthAdjust="spacingAndGlyphs">(b)</text>
<text x="471.2" y="73.6" font-size="18" fill="#111" textLength="20.88" lengthAdjust="spacingAndGlyphs">(c)</text>
<text x="471.46" y="303.2" font-size="18" fill="#111" textLength="22.87" lengthAdjust="spacingAndGlyphs">(d)</text>
<text x="63.8" y="502.5" font-size="9.6" fill="#1a1a1a" stroke="#1a1a1a" stroke-width="0.3" textLength="57.89" lengthAdjust="spacingAndGlyphs">Isoflurane (%)</text>
<text x="199.5" y="502.5" font-size="9.6" fill="#1a1a1a" stroke="#1a1a1a" stroke-width="0.3" textLength="58.99" lengthAdjust="spacingAndGlyphs">Isoflurane (%)</text>
<text x="332.4" y="502.5" font-size="9.6" fill="#1a1a1a" stroke="#1a1a1a" stroke-width="0.3" textLength="58.99" lengthAdjust="spacingAndGlyphs">Isoflurane (%)</text>
<text x="546.5" y="502.5" font-size="9.6" fill="#1a1a1a" stroke="#1a1a1a" stroke-width="0.3" textLength="57.69" lengthAdjust="spacingAndGlyphs">Isoflurane (%)</text>
<text x="699.8" y="502.5" font-size="9.6" fill="#1a1a1a" stroke="#1a1a1a" stroke-width="0.3" textLength="58.99" lengthAdjust="spacingAndGlyphs">Isoflurane (%)</text>
<text transform="translate(21.6 202.6) rotate(-90)" font-size="9.6" fill="#1a1a1a" stroke="#1a1a1a" stroke-width="0.3" textLength="77.84" lengthAdjust="spacingAndGlyphs">z correlation value</text>
<text transform="translate(20.6 430) rotate(-90)" font-size="9.6" fill="#1a1a1a" stroke="#1a1a1a" stroke-width="0.3" textLength="79.34" lengthAdjust="spacingAndGlyphs">z correlation value</text>
</svg></body></html>
